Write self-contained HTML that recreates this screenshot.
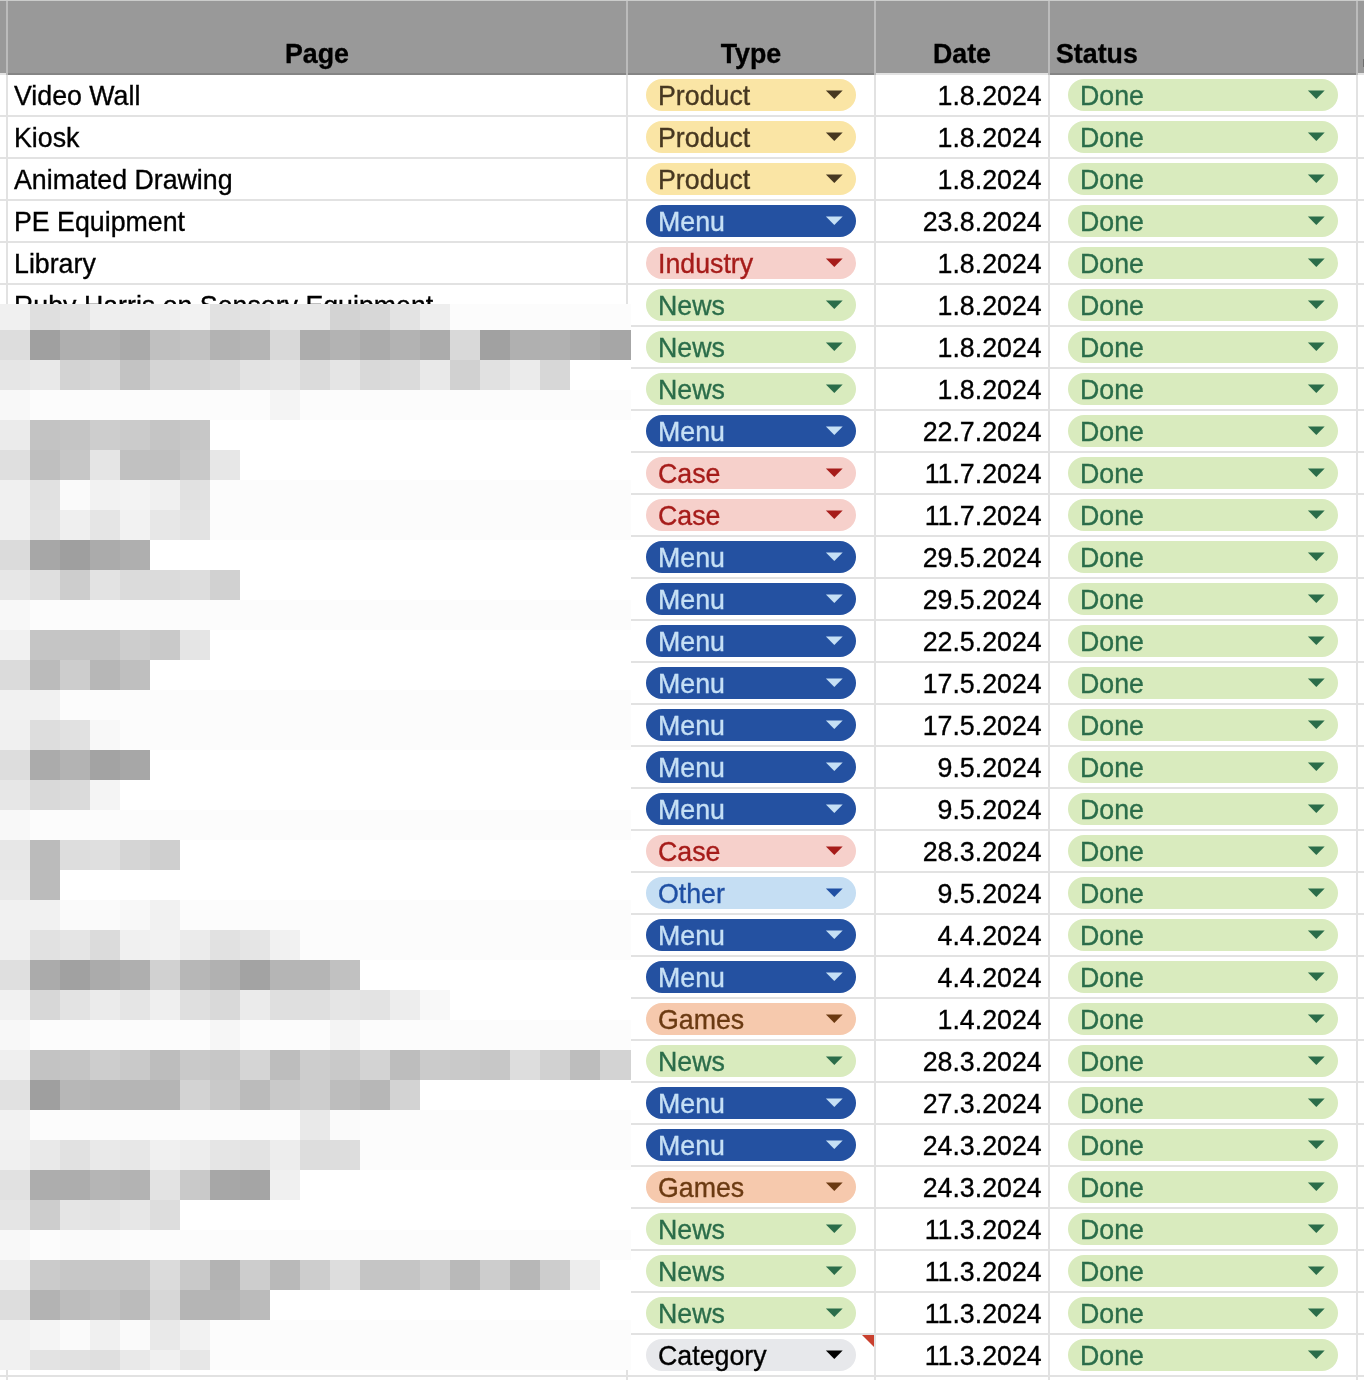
<!DOCTYPE html><html><head><meta charset="utf-8"><style>
*{margin:0;padding:0;box-sizing:border-box}
html,body{width:1364px;height:1380px;overflow:hidden;background:#fff}
body{position:relative;-webkit-font-smoothing:antialiased;-webkit-text-stroke:0.35px currentColor;font-family:"Liberation Sans",sans-serif;font-size:26.75px;color:#000}
.a{position:absolute}
.hl{position:absolute;left:0;width:1364px;height:2px;background:#e2e2e2}
.vl{position:absolute;top:75px;width:2px;height:1305px;background:#e2e2e2}
.hvl{position:absolute;top:1px;width:2px;height:74px;background:#bbbbbb}
.t{position:absolute;white-space:nowrap;line-height:30px;will-change:transform}
.chip{position:absolute;height:32px;border-radius:16px}
.chip span{position:absolute;left:11.5px;top:2px;line-height:30px;white-space:nowrap;will-change:transform}
.tri{position:absolute;width:0;height:0;border-left:8.75px solid transparent;border-right:8.75px solid transparent;border-top:8.8px solid}
.m{position:absolute;width:30px;height:30px}
</style></head><body>
<div class="a" style="left:0;top:0;width:1364px;height:1px;background:#cbcccb"></div>
<div class="a" style="left:0;top:1px;width:1364px;height:72px;background:#999999"></div>
<div class="a" style="left:1363px;top:59px;width:1px;height:8px;background:#6e6e6e"></div>
<div class="a" style="left:0;top:73px;width:1364px;height:2px;background:#e2e2e2"></div>
<div class="a" style="left:6px;top:73px;width:868px;height:2px;background:#858585"></div>
<div class="a" style="left:1048px;top:73px;width:308px;height:2px;background:#858585"></div>
<div class="hvl" style="left:6px"></div>
<div class="hvl" style="left:626px"></div>
<div class="hvl" style="left:874px"></div>
<div class="hvl" style="left:1048px"></div>
<div class="hvl" style="left:1356px"></div>
<div class="t" style="left:8px;width:618px;top:39px;text-align:center;font-weight:bold">Page</div>
<div class="t" style="left:628px;width:246px;top:39px;text-align:center;font-weight:bold">Type</div>
<div class="t" style="left:876px;width:172px;top:39px;text-align:center;font-weight:bold">Date</div>
<div class="t" style="left:1056px;top:39px;font-weight:bold">Status</div>
<div class="hl" style="top:115px"></div>
<div class="hl" style="top:157px"></div>
<div class="hl" style="top:199px"></div>
<div class="hl" style="top:241px"></div>
<div class="hl" style="top:283px"></div>
<div class="hl" style="top:325px"></div>
<div class="hl" style="top:367px"></div>
<div class="hl" style="top:409px"></div>
<div class="hl" style="top:451px"></div>
<div class="hl" style="top:493px"></div>
<div class="hl" style="top:535px"></div>
<div class="hl" style="top:577px"></div>
<div class="hl" style="top:619px"></div>
<div class="hl" style="top:661px"></div>
<div class="hl" style="top:703px"></div>
<div class="hl" style="top:745px"></div>
<div class="hl" style="top:787px"></div>
<div class="hl" style="top:829px"></div>
<div class="hl" style="top:871px"></div>
<div class="hl" style="top:913px"></div>
<div class="hl" style="top:955px"></div>
<div class="hl" style="top:997px"></div>
<div class="hl" style="top:1039px"></div>
<div class="hl" style="top:1081px"></div>
<div class="hl" style="top:1123px"></div>
<div class="hl" style="top:1165px"></div>
<div class="hl" style="top:1207px"></div>
<div class="hl" style="top:1249px"></div>
<div class="hl" style="top:1291px"></div>
<div class="hl" style="top:1333px"></div>
<div class="hl" style="top:1375px"></div>
<div class="vl" style="left:6px"></div>
<div class="vl" style="left:626px"></div>
<div class="vl" style="left:874px"></div>
<div class="vl" style="left:1048px"></div>
<div class="vl" style="left:1356px"></div>
<div class="t" style="left:14px;top:81px">Video Wall</div>
<div class="chip" style="left:646px;top:79px;width:210px;background:#fae5a5;color:#473821"><span>Product</span></div>
<svg class="a" style="left:825px;top:90.3px" width="19" height="10"><polygon points="0.9,0.4 17.7,0.4 9.3,8.9" fill="#473821"/></svg>
<div class="t" style="left:876px;width:165.7px;top:81px;text-align:right">1.8.2024</div>
<div class="chip" style="left:1068px;top:79px;width:270px;background:#d9ebbe;color:#2b6d4a"><span>Done</span></div>
<svg class="a" style="left:1307px;top:90.3px" width="19" height="10"><polygon points="0.9,0.4 17.7,0.4 9.3,8.9" fill="#2b6d4a"/></svg>
<div class="t" style="left:14px;top:123px">Kiosk</div>
<div class="chip" style="left:646px;top:121px;width:210px;background:#fae5a5;color:#473821"><span>Product</span></div>
<svg class="a" style="left:825px;top:132.3px" width="19" height="10"><polygon points="0.9,0.4 17.7,0.4 9.3,8.9" fill="#473821"/></svg>
<div class="t" style="left:876px;width:165.7px;top:123px;text-align:right">1.8.2024</div>
<div class="chip" style="left:1068px;top:121px;width:270px;background:#d9ebbe;color:#2b6d4a"><span>Done</span></div>
<svg class="a" style="left:1307px;top:132.3px" width="19" height="10"><polygon points="0.9,0.4 17.7,0.4 9.3,8.9" fill="#2b6d4a"/></svg>
<div class="t" style="left:14px;top:165px">Animated Drawing</div>
<div class="chip" style="left:646px;top:163px;width:210px;background:#fae5a5;color:#473821"><span>Product</span></div>
<svg class="a" style="left:825px;top:174.3px" width="19" height="10"><polygon points="0.9,0.4 17.7,0.4 9.3,8.9" fill="#473821"/></svg>
<div class="t" style="left:876px;width:165.7px;top:165px;text-align:right">1.8.2024</div>
<div class="chip" style="left:1068px;top:163px;width:270px;background:#d9ebbe;color:#2b6d4a"><span>Done</span></div>
<svg class="a" style="left:1307px;top:174.3px" width="19" height="10"><polygon points="0.9,0.4 17.7,0.4 9.3,8.9" fill="#2b6d4a"/></svg>
<div class="t" style="left:14px;top:207px">PE Equipment</div>
<div class="chip" style="left:646px;top:205px;width:210px;background:#2451a1;color:#c6e0f5"><span>Menu</span></div>
<svg class="a" style="left:825px;top:216.3px" width="19" height="10"><polygon points="0.9,0.4 17.7,0.4 9.3,8.9" fill="#c6e0f5"/></svg>
<div class="t" style="left:876px;width:165.7px;top:207px;text-align:right">23.8.2024</div>
<div class="chip" style="left:1068px;top:205px;width:270px;background:#d9ebbe;color:#2b6d4a"><span>Done</span></div>
<svg class="a" style="left:1307px;top:216.3px" width="19" height="10"><polygon points="0.9,0.4 17.7,0.4 9.3,8.9" fill="#2b6d4a"/></svg>
<div class="t" style="left:14px;top:249px">Library</div>
<div class="chip" style="left:646px;top:247px;width:210px;background:#f6d0cb;color:#a61c1a"><span>Industry</span></div>
<svg class="a" style="left:825px;top:258.3px" width="19" height="10"><polygon points="0.9,0.4 17.7,0.4 9.3,8.9" fill="#a61c1a"/></svg>
<div class="t" style="left:876px;width:165.7px;top:249px;text-align:right">1.8.2024</div>
<div class="chip" style="left:1068px;top:247px;width:270px;background:#d9ebbe;color:#2b6d4a"><span>Done</span></div>
<svg class="a" style="left:1307px;top:258.3px" width="19" height="10"><polygon points="0.9,0.4 17.7,0.4 9.3,8.9" fill="#2b6d4a"/></svg>
<div class="t" style="left:14px;top:291px">Ruby Harris on Sensory Equipment</div>
<div class="chip" style="left:646px;top:289px;width:210px;background:#d9ebbe;color:#2b6d4a"><span>News</span></div>
<svg class="a" style="left:825px;top:300.3px" width="19" height="10"><polygon points="0.9,0.4 17.7,0.4 9.3,8.9" fill="#2b6d4a"/></svg>
<div class="t" style="left:876px;width:165.7px;top:291px;text-align:right">1.8.2024</div>
<div class="chip" style="left:1068px;top:289px;width:270px;background:#d9ebbe;color:#2b6d4a"><span>Done</span></div>
<svg class="a" style="left:1307px;top:300.3px" width="19" height="10"><polygon points="0.9,0.4 17.7,0.4 9.3,8.9" fill="#2b6d4a"/></svg>
<div class="chip" style="left:646px;top:331px;width:210px;background:#d9ebbe;color:#2b6d4a"><span>News</span></div>
<svg class="a" style="left:825px;top:342.3px" width="19" height="10"><polygon points="0.9,0.4 17.7,0.4 9.3,8.9" fill="#2b6d4a"/></svg>
<div class="t" style="left:876px;width:165.7px;top:333px;text-align:right">1.8.2024</div>
<div class="chip" style="left:1068px;top:331px;width:270px;background:#d9ebbe;color:#2b6d4a"><span>Done</span></div>
<svg class="a" style="left:1307px;top:342.3px" width="19" height="10"><polygon points="0.9,0.4 17.7,0.4 9.3,8.9" fill="#2b6d4a"/></svg>
<div class="chip" style="left:646px;top:373px;width:210px;background:#d9ebbe;color:#2b6d4a"><span>News</span></div>
<svg class="a" style="left:825px;top:384.3px" width="19" height="10"><polygon points="0.9,0.4 17.7,0.4 9.3,8.9" fill="#2b6d4a"/></svg>
<div class="t" style="left:876px;width:165.7px;top:375px;text-align:right">1.8.2024</div>
<div class="chip" style="left:1068px;top:373px;width:270px;background:#d9ebbe;color:#2b6d4a"><span>Done</span></div>
<svg class="a" style="left:1307px;top:384.3px" width="19" height="10"><polygon points="0.9,0.4 17.7,0.4 9.3,8.9" fill="#2b6d4a"/></svg>
<div class="chip" style="left:646px;top:415px;width:210px;background:#2451a1;color:#c6e0f5"><span>Menu</span></div>
<svg class="a" style="left:825px;top:426.3px" width="19" height="10"><polygon points="0.9,0.4 17.7,0.4 9.3,8.9" fill="#c6e0f5"/></svg>
<div class="t" style="left:876px;width:165.7px;top:417px;text-align:right">22.7.2024</div>
<div class="chip" style="left:1068px;top:415px;width:270px;background:#d9ebbe;color:#2b6d4a"><span>Done</span></div>
<svg class="a" style="left:1307px;top:426.3px" width="19" height="10"><polygon points="0.9,0.4 17.7,0.4 9.3,8.9" fill="#2b6d4a"/></svg>
<div class="chip" style="left:646px;top:457px;width:210px;background:#f6d0cb;color:#a61c1a"><span>Case</span></div>
<svg class="a" style="left:825px;top:468.3px" width="19" height="10"><polygon points="0.9,0.4 17.7,0.4 9.3,8.9" fill="#a61c1a"/></svg>
<div class="t" style="left:876px;width:165.7px;top:459px;text-align:right">11.7.2024</div>
<div class="chip" style="left:1068px;top:457px;width:270px;background:#d9ebbe;color:#2b6d4a"><span>Done</span></div>
<svg class="a" style="left:1307px;top:468.3px" width="19" height="10"><polygon points="0.9,0.4 17.7,0.4 9.3,8.9" fill="#2b6d4a"/></svg>
<div class="chip" style="left:646px;top:499px;width:210px;background:#f6d0cb;color:#a61c1a"><span>Case</span></div>
<svg class="a" style="left:825px;top:510.3px" width="19" height="10"><polygon points="0.9,0.4 17.7,0.4 9.3,8.9" fill="#a61c1a"/></svg>
<div class="t" style="left:876px;width:165.7px;top:501px;text-align:right">11.7.2024</div>
<div class="chip" style="left:1068px;top:499px;width:270px;background:#d9ebbe;color:#2b6d4a"><span>Done</span></div>
<svg class="a" style="left:1307px;top:510.3px" width="19" height="10"><polygon points="0.9,0.4 17.7,0.4 9.3,8.9" fill="#2b6d4a"/></svg>
<div class="chip" style="left:646px;top:541px;width:210px;background:#2451a1;color:#c6e0f5"><span>Menu</span></div>
<svg class="a" style="left:825px;top:552.3px" width="19" height="10"><polygon points="0.9,0.4 17.7,0.4 9.3,8.9" fill="#c6e0f5"/></svg>
<div class="t" style="left:876px;width:165.7px;top:543px;text-align:right">29.5.2024</div>
<div class="chip" style="left:1068px;top:541px;width:270px;background:#d9ebbe;color:#2b6d4a"><span>Done</span></div>
<svg class="a" style="left:1307px;top:552.3px" width="19" height="10"><polygon points="0.9,0.4 17.7,0.4 9.3,8.9" fill="#2b6d4a"/></svg>
<div class="chip" style="left:646px;top:583px;width:210px;background:#2451a1;color:#c6e0f5"><span>Menu</span></div>
<svg class="a" style="left:825px;top:594.3px" width="19" height="10"><polygon points="0.9,0.4 17.7,0.4 9.3,8.9" fill="#c6e0f5"/></svg>
<div class="t" style="left:876px;width:165.7px;top:585px;text-align:right">29.5.2024</div>
<div class="chip" style="left:1068px;top:583px;width:270px;background:#d9ebbe;color:#2b6d4a"><span>Done</span></div>
<svg class="a" style="left:1307px;top:594.3px" width="19" height="10"><polygon points="0.9,0.4 17.7,0.4 9.3,8.9" fill="#2b6d4a"/></svg>
<div class="chip" style="left:646px;top:625px;width:210px;background:#2451a1;color:#c6e0f5"><span>Menu</span></div>
<svg class="a" style="left:825px;top:636.3px" width="19" height="10"><polygon points="0.9,0.4 17.7,0.4 9.3,8.9" fill="#c6e0f5"/></svg>
<div class="t" style="left:876px;width:165.7px;top:627px;text-align:right">22.5.2024</div>
<div class="chip" style="left:1068px;top:625px;width:270px;background:#d9ebbe;color:#2b6d4a"><span>Done</span></div>
<svg class="a" style="left:1307px;top:636.3px" width="19" height="10"><polygon points="0.9,0.4 17.7,0.4 9.3,8.9" fill="#2b6d4a"/></svg>
<div class="chip" style="left:646px;top:667px;width:210px;background:#2451a1;color:#c6e0f5"><span>Menu</span></div>
<svg class="a" style="left:825px;top:678.3px" width="19" height="10"><polygon points="0.9,0.4 17.7,0.4 9.3,8.9" fill="#c6e0f5"/></svg>
<div class="t" style="left:876px;width:165.7px;top:669px;text-align:right">17.5.2024</div>
<div class="chip" style="left:1068px;top:667px;width:270px;background:#d9ebbe;color:#2b6d4a"><span>Done</span></div>
<svg class="a" style="left:1307px;top:678.3px" width="19" height="10"><polygon points="0.9,0.4 17.7,0.4 9.3,8.9" fill="#2b6d4a"/></svg>
<div class="chip" style="left:646px;top:709px;width:210px;background:#2451a1;color:#c6e0f5"><span>Menu</span></div>
<svg class="a" style="left:825px;top:720.3px" width="19" height="10"><polygon points="0.9,0.4 17.7,0.4 9.3,8.9" fill="#c6e0f5"/></svg>
<div class="t" style="left:876px;width:165.7px;top:711px;text-align:right">17.5.2024</div>
<div class="chip" style="left:1068px;top:709px;width:270px;background:#d9ebbe;color:#2b6d4a"><span>Done</span></div>
<svg class="a" style="left:1307px;top:720.3px" width="19" height="10"><polygon points="0.9,0.4 17.7,0.4 9.3,8.9" fill="#2b6d4a"/></svg>
<div class="chip" style="left:646px;top:751px;width:210px;background:#2451a1;color:#c6e0f5"><span>Menu</span></div>
<svg class="a" style="left:825px;top:762.3px" width="19" height="10"><polygon points="0.9,0.4 17.7,0.4 9.3,8.9" fill="#c6e0f5"/></svg>
<div class="t" style="left:876px;width:165.7px;top:753px;text-align:right">9.5.2024</div>
<div class="chip" style="left:1068px;top:751px;width:270px;background:#d9ebbe;color:#2b6d4a"><span>Done</span></div>
<svg class="a" style="left:1307px;top:762.3px" width="19" height="10"><polygon points="0.9,0.4 17.7,0.4 9.3,8.9" fill="#2b6d4a"/></svg>
<div class="chip" style="left:646px;top:793px;width:210px;background:#2451a1;color:#c6e0f5"><span>Menu</span></div>
<svg class="a" style="left:825px;top:804.3px" width="19" height="10"><polygon points="0.9,0.4 17.7,0.4 9.3,8.9" fill="#c6e0f5"/></svg>
<div class="t" style="left:876px;width:165.7px;top:795px;text-align:right">9.5.2024</div>
<div class="chip" style="left:1068px;top:793px;width:270px;background:#d9ebbe;color:#2b6d4a"><span>Done</span></div>
<svg class="a" style="left:1307px;top:804.3px" width="19" height="10"><polygon points="0.9,0.4 17.7,0.4 9.3,8.9" fill="#2b6d4a"/></svg>
<div class="chip" style="left:646px;top:835px;width:210px;background:#f6d0cb;color:#a61c1a"><span>Case</span></div>
<svg class="a" style="left:825px;top:846.3px" width="19" height="10"><polygon points="0.9,0.4 17.7,0.4 9.3,8.9" fill="#a61c1a"/></svg>
<div class="t" style="left:876px;width:165.7px;top:837px;text-align:right">28.3.2024</div>
<div class="chip" style="left:1068px;top:835px;width:270px;background:#d9ebbe;color:#2b6d4a"><span>Done</span></div>
<svg class="a" style="left:1307px;top:846.3px" width="19" height="10"><polygon points="0.9,0.4 17.7,0.4 9.3,8.9" fill="#2b6d4a"/></svg>
<div class="chip" style="left:646px;top:877px;width:210px;background:#c5def3;color:#1f4fa3"><span>Other</span></div>
<svg class="a" style="left:825px;top:888.3px" width="19" height="10"><polygon points="0.9,0.4 17.7,0.4 9.3,8.9" fill="#1f4fa3"/></svg>
<div class="t" style="left:876px;width:165.7px;top:879px;text-align:right">9.5.2024</div>
<div class="chip" style="left:1068px;top:877px;width:270px;background:#d9ebbe;color:#2b6d4a"><span>Done</span></div>
<svg class="a" style="left:1307px;top:888.3px" width="19" height="10"><polygon points="0.9,0.4 17.7,0.4 9.3,8.9" fill="#2b6d4a"/></svg>
<div class="chip" style="left:646px;top:919px;width:210px;background:#2451a1;color:#c6e0f5"><span>Menu</span></div>
<svg class="a" style="left:825px;top:930.3px" width="19" height="10"><polygon points="0.9,0.4 17.7,0.4 9.3,8.9" fill="#c6e0f5"/></svg>
<div class="t" style="left:876px;width:165.7px;top:921px;text-align:right">4.4.2024</div>
<div class="chip" style="left:1068px;top:919px;width:270px;background:#d9ebbe;color:#2b6d4a"><span>Done</span></div>
<svg class="a" style="left:1307px;top:930.3px" width="19" height="10"><polygon points="0.9,0.4 17.7,0.4 9.3,8.9" fill="#2b6d4a"/></svg>
<div class="chip" style="left:646px;top:961px;width:210px;background:#2451a1;color:#c6e0f5"><span>Menu</span></div>
<svg class="a" style="left:825px;top:972.3px" width="19" height="10"><polygon points="0.9,0.4 17.7,0.4 9.3,8.9" fill="#c6e0f5"/></svg>
<div class="t" style="left:876px;width:165.7px;top:963px;text-align:right">4.4.2024</div>
<div class="chip" style="left:1068px;top:961px;width:270px;background:#d9ebbe;color:#2b6d4a"><span>Done</span></div>
<svg class="a" style="left:1307px;top:972.3px" width="19" height="10"><polygon points="0.9,0.4 17.7,0.4 9.3,8.9" fill="#2b6d4a"/></svg>
<div class="chip" style="left:646px;top:1003px;width:210px;background:#f6c9ad;color:#6b3a12"><span>Games</span></div>
<svg class="a" style="left:825px;top:1014.3px" width="19" height="10"><polygon points="0.9,0.4 17.7,0.4 9.3,8.9" fill="#6b3a12"/></svg>
<div class="t" style="left:876px;width:165.7px;top:1005px;text-align:right">1.4.2024</div>
<div class="chip" style="left:1068px;top:1003px;width:270px;background:#d9ebbe;color:#2b6d4a"><span>Done</span></div>
<svg class="a" style="left:1307px;top:1014.3px" width="19" height="10"><polygon points="0.9,0.4 17.7,0.4 9.3,8.9" fill="#2b6d4a"/></svg>
<div class="chip" style="left:646px;top:1045px;width:210px;background:#d9ebbe;color:#2b6d4a"><span>News</span></div>
<svg class="a" style="left:825px;top:1056.3px" width="19" height="10"><polygon points="0.9,0.4 17.7,0.4 9.3,8.9" fill="#2b6d4a"/></svg>
<div class="t" style="left:876px;width:165.7px;top:1047px;text-align:right">28.3.2024</div>
<div class="chip" style="left:1068px;top:1045px;width:270px;background:#d9ebbe;color:#2b6d4a"><span>Done</span></div>
<svg class="a" style="left:1307px;top:1056.3px" width="19" height="10"><polygon points="0.9,0.4 17.7,0.4 9.3,8.9" fill="#2b6d4a"/></svg>
<div class="chip" style="left:646px;top:1087px;width:210px;background:#2451a1;color:#c6e0f5"><span>Menu</span></div>
<svg class="a" style="left:825px;top:1098.3px" width="19" height="10"><polygon points="0.9,0.4 17.7,0.4 9.3,8.9" fill="#c6e0f5"/></svg>
<div class="t" style="left:876px;width:165.7px;top:1089px;text-align:right">27.3.2024</div>
<div class="chip" style="left:1068px;top:1087px;width:270px;background:#d9ebbe;color:#2b6d4a"><span>Done</span></div>
<svg class="a" style="left:1307px;top:1098.3px" width="19" height="10"><polygon points="0.9,0.4 17.7,0.4 9.3,8.9" fill="#2b6d4a"/></svg>
<div class="chip" style="left:646px;top:1129px;width:210px;background:#2451a1;color:#c6e0f5"><span>Menu</span></div>
<svg class="a" style="left:825px;top:1140.3px" width="19" height="10"><polygon points="0.9,0.4 17.7,0.4 9.3,8.9" fill="#c6e0f5"/></svg>
<div class="t" style="left:876px;width:165.7px;top:1131px;text-align:right">24.3.2024</div>
<div class="chip" style="left:1068px;top:1129px;width:270px;background:#d9ebbe;color:#2b6d4a"><span>Done</span></div>
<svg class="a" style="left:1307px;top:1140.3px" width="19" height="10"><polygon points="0.9,0.4 17.7,0.4 9.3,8.9" fill="#2b6d4a"/></svg>
<div class="chip" style="left:646px;top:1171px;width:210px;background:#f6c9ad;color:#6b3a12"><span>Games</span></div>
<svg class="a" style="left:825px;top:1182.3px" width="19" height="10"><polygon points="0.9,0.4 17.7,0.4 9.3,8.9" fill="#6b3a12"/></svg>
<div class="t" style="left:876px;width:165.7px;top:1173px;text-align:right">24.3.2024</div>
<div class="chip" style="left:1068px;top:1171px;width:270px;background:#d9ebbe;color:#2b6d4a"><span>Done</span></div>
<svg class="a" style="left:1307px;top:1182.3px" width="19" height="10"><polygon points="0.9,0.4 17.7,0.4 9.3,8.9" fill="#2b6d4a"/></svg>
<div class="chip" style="left:646px;top:1213px;width:210px;background:#d9ebbe;color:#2b6d4a"><span>News</span></div>
<svg class="a" style="left:825px;top:1224.3px" width="19" height="10"><polygon points="0.9,0.4 17.7,0.4 9.3,8.9" fill="#2b6d4a"/></svg>
<div class="t" style="left:876px;width:165.7px;top:1215px;text-align:right">11.3.2024</div>
<div class="chip" style="left:1068px;top:1213px;width:270px;background:#d9ebbe;color:#2b6d4a"><span>Done</span></div>
<svg class="a" style="left:1307px;top:1224.3px" width="19" height="10"><polygon points="0.9,0.4 17.7,0.4 9.3,8.9" fill="#2b6d4a"/></svg>
<div class="chip" style="left:646px;top:1255px;width:210px;background:#d9ebbe;color:#2b6d4a"><span>News</span></div>
<svg class="a" style="left:825px;top:1266.3px" width="19" height="10"><polygon points="0.9,0.4 17.7,0.4 9.3,8.9" fill="#2b6d4a"/></svg>
<div class="t" style="left:876px;width:165.7px;top:1257px;text-align:right">11.3.2024</div>
<div class="chip" style="left:1068px;top:1255px;width:270px;background:#d9ebbe;color:#2b6d4a"><span>Done</span></div>
<svg class="a" style="left:1307px;top:1266.3px" width="19" height="10"><polygon points="0.9,0.4 17.7,0.4 9.3,8.9" fill="#2b6d4a"/></svg>
<div class="chip" style="left:646px;top:1297px;width:210px;background:#d9ebbe;color:#2b6d4a"><span>News</span></div>
<svg class="a" style="left:825px;top:1308.3px" width="19" height="10"><polygon points="0.9,0.4 17.7,0.4 9.3,8.9" fill="#2b6d4a"/></svg>
<div class="t" style="left:876px;width:165.7px;top:1299px;text-align:right">11.3.2024</div>
<div class="chip" style="left:1068px;top:1297px;width:270px;background:#d9ebbe;color:#2b6d4a"><span>Done</span></div>
<svg class="a" style="left:1307px;top:1308.3px" width="19" height="10"><polygon points="0.9,0.4 17.7,0.4 9.3,8.9" fill="#2b6d4a"/></svg>
<div class="chip" style="left:646px;top:1339px;width:210px;background:#e7e8eb;color:#000000"><span>Category</span></div>
<svg class="a" style="left:825px;top:1350.3px" width="19" height="10"><polygon points="0.9,0.4 17.7,0.4 9.3,8.9" fill="#000000"/></svg>
<div class="t" style="left:876px;width:165.7px;top:1341px;text-align:right">11.3.2024</div>
<div class="chip" style="left:1068px;top:1339px;width:270px;background:#d9ebbe;color:#2b6d4a"><span>Done</span></div>
<svg class="a" style="left:1307px;top:1350.3px" width="19" height="10"><polygon points="0.9,0.4 17.7,0.4 9.3,8.9" fill="#2b6d4a"/></svg>
<div class="a" style="left:862px;top:1335px;width:0;height:0;border-top:12px solid #c9402e;border-left:12px solid transparent"></div>
<div class="m" style="left:0px;top:304px;height:26px;width:30px;background:#f0f0f0"></div>
<div class="m" style="left:30px;top:304px;height:26px;width:30px;background:#dfdfdf"></div>
<div class="m" style="left:60px;top:304px;height:26px;width:30px;background:#e3e3e3"></div>
<div class="m" style="left:90px;top:304px;height:26px;width:30px;background:#eeeeee"></div>
<div class="m" style="left:120px;top:304px;height:26px;width:30px;background:#eeeeee"></div>
<div class="m" style="left:150px;top:304px;height:26px;width:30px;background:#efefef"></div>
<div class="m" style="left:180px;top:304px;height:26px;width:30px;background:#f2f2f2"></div>
<div class="m" style="left:210px;top:304px;height:26px;width:30px;background:#e1e1e1"></div>
<div class="m" style="left:240px;top:304px;height:26px;width:30px;background:#e3e3e3"></div>
<div class="m" style="left:270px;top:304px;height:26px;width:30px;background:#e7e7e7"></div>
<div class="m" style="left:300px;top:304px;height:26px;width:30px;background:#e7e7e7"></div>
<div class="m" style="left:330px;top:304px;height:26px;width:30px;background:#d3d3d3"></div>
<div class="m" style="left:360px;top:304px;height:26px;width:30px;background:#d7d7d7"></div>
<div class="m" style="left:390px;top:304px;height:26px;width:30px;background:#e3e3e3"></div>
<div class="m" style="left:420px;top:304px;height:26px;width:30px;background:#eeeeee"></div>
<div class="m" style="left:450px;top:304px;height:26px;width:30px;background:#fcfcfc"></div>
<div class="m" style="left:480px;top:304px;height:26px;width:30px;background:#fcfcfc"></div>
<div class="m" style="left:510px;top:304px;height:26px;width:30px;background:#fcfcfc"></div>
<div class="m" style="left:540px;top:304px;height:26px;width:30px;background:#fcfcfc"></div>
<div class="m" style="left:570px;top:304px;height:26px;width:30px;background:#fcfcfc"></div>
<div class="m" style="left:600px;top:304px;height:26px;width:31px;background:#fcfcfc"></div>
<div class="m" style="left:0px;top:330px;height:30px;width:30px;background:#dddddd"></div>
<div class="m" style="left:30px;top:330px;height:30px;width:30px;background:#a0a0a0"></div>
<div class="m" style="left:60px;top:330px;height:30px;width:30px;background:#afafaf"></div>
<div class="m" style="left:90px;top:330px;height:30px;width:30px;background:#b0b0b0"></div>
<div class="m" style="left:120px;top:330px;height:30px;width:30px;background:#ababab"></div>
<div class="m" style="left:150px;top:330px;height:30px;width:30px;background:#c0c0c0"></div>
<div class="m" style="left:180px;top:330px;height:30px;width:30px;background:#c3c3c3"></div>
<div class="m" style="left:210px;top:330px;height:30px;width:30px;background:#b3b3b3"></div>
<div class="m" style="left:240px;top:330px;height:30px;width:30px;background:#b5b5b5"></div>
<div class="m" style="left:270px;top:330px;height:30px;width:30px;background:#d9d9d9"></div>
<div class="m" style="left:300px;top:330px;height:30px;width:30px;background:#adadad"></div>
<div class="m" style="left:330px;top:330px;height:30px;width:30px;background:#b3b3b3"></div>
<div class="m" style="left:360px;top:330px;height:30px;width:30px;background:#acacac"></div>
<div class="m" style="left:390px;top:330px;height:30px;width:30px;background:#b3b3b3"></div>
<div class="m" style="left:420px;top:330px;height:30px;width:30px;background:#acacac"></div>
<div class="m" style="left:450px;top:330px;height:30px;width:30px;background:#d9d9d9"></div>
<div class="m" style="left:480px;top:330px;height:30px;width:30px;background:#a1a1a1"></div>
<div class="m" style="left:510px;top:330px;height:30px;width:30px;background:#b0b0b0"></div>
<div class="m" style="left:540px;top:330px;height:30px;width:30px;background:#b1b1b1"></div>
<div class="m" style="left:570px;top:330px;height:30px;width:30px;background:#ababab"></div>
<div class="m" style="left:600px;top:330px;height:30px;width:31px;background:#a6a6a6"></div>
<div class="m" style="left:0px;top:360px;height:30px;width:30px;background:#e6e6e6"></div>
<div class="m" style="left:30px;top:360px;height:30px;width:30px;background:#e9e9e9"></div>
<div class="m" style="left:60px;top:360px;height:30px;width:30px;background:#d3d3d3"></div>
<div class="m" style="left:90px;top:360px;height:30px;width:30px;background:#d7d7d7"></div>
<div class="m" style="left:120px;top:360px;height:30px;width:30px;background:#c3c3c3"></div>
<div class="m" style="left:150px;top:360px;height:30px;width:30px;background:#d5d5d5"></div>
<div class="m" style="left:180px;top:360px;height:30px;width:30px;background:#d5d5d5"></div>
<div class="m" style="left:210px;top:360px;height:30px;width:30px;background:#d9d9d9"></div>
<div class="m" style="left:240px;top:360px;height:30px;width:30px;background:#e3e3e3"></div>
<div class="m" style="left:270px;top:360px;height:30px;width:30px;background:#e5e5e5"></div>
<div class="m" style="left:300px;top:360px;height:30px;width:30px;background:#dbdbdb"></div>
<div class="m" style="left:330px;top:360px;height:30px;width:30px;background:#e5e5e5"></div>
<div class="m" style="left:360px;top:360px;height:30px;width:30px;background:#d9d9d9"></div>
<div class="m" style="left:390px;top:360px;height:30px;width:30px;background:#dbdbdb"></div>
<div class="m" style="left:420px;top:360px;height:30px;width:30px;background:#e9e9e9"></div>
<div class="m" style="left:450px;top:360px;height:30px;width:30px;background:#d1d1d1"></div>
<div class="m" style="left:480px;top:360px;height:30px;width:30px;background:#e1e1e1"></div>
<div class="m" style="left:510px;top:360px;height:30px;width:30px;background:#ebebeb"></div>
<div class="m" style="left:540px;top:360px;height:30px;width:30px;background:#d7d7d7"></div>
<div class="m" style="left:570px;top:360px;height:30px;width:30px;background:#ffffff"></div>
<div class="m" style="left:600px;top:360px;height:30px;width:31px;background:#ffffff"></div>
<div class="m" style="left:0px;top:390px;height:30px;width:30px;background:#f8f8f8"></div>
<div class="m" style="left:30px;top:390px;height:30px;width:30px;background:#fcfcfc"></div>
<div class="m" style="left:60px;top:390px;height:30px;width:30px;background:#fcfcfc"></div>
<div class="m" style="left:90px;top:390px;height:30px;width:30px;background:#fcfcfc"></div>
<div class="m" style="left:120px;top:390px;height:30px;width:30px;background:#fcfcfc"></div>
<div class="m" style="left:150px;top:390px;height:30px;width:30px;background:#fcfcfc"></div>
<div class="m" style="left:180px;top:390px;height:30px;width:30px;background:#fcfcfc"></div>
<div class="m" style="left:210px;top:390px;height:30px;width:30px;background:#fcfcfc"></div>
<div class="m" style="left:240px;top:390px;height:30px;width:30px;background:#fcfcfc"></div>
<div class="m" style="left:270px;top:390px;height:30px;width:30px;background:#f4f4f4"></div>
<div class="m" style="left:300px;top:390px;height:30px;width:30px;background:#fcfcfc"></div>
<div class="m" style="left:330px;top:390px;height:30px;width:30px;background:#fcfcfc"></div>
<div class="m" style="left:360px;top:390px;height:30px;width:30px;background:#fcfcfc"></div>
<div class="m" style="left:390px;top:390px;height:30px;width:30px;background:#fcfcfc"></div>
<div class="m" style="left:420px;top:390px;height:30px;width:30px;background:#fcfcfc"></div>
<div class="m" style="left:450px;top:390px;height:30px;width:30px;background:#fcfcfc"></div>
<div class="m" style="left:480px;top:390px;height:30px;width:30px;background:#fcfcfc"></div>
<div class="m" style="left:510px;top:390px;height:30px;width:30px;background:#fcfcfc"></div>
<div class="m" style="left:540px;top:390px;height:30px;width:30px;background:#fcfcfc"></div>
<div class="m" style="left:570px;top:390px;height:30px;width:30px;background:#fcfcfc"></div>
<div class="m" style="left:600px;top:390px;height:30px;width:31px;background:#fcfcfc"></div>
<div class="m" style="left:0px;top:420px;height:30px;width:30px;background:#ebebeb"></div>
<div class="m" style="left:30px;top:420px;height:30px;width:30px;background:#c3c3c3"></div>
<div class="m" style="left:60px;top:420px;height:30px;width:30px;background:#c5c5c5"></div>
<div class="m" style="left:90px;top:420px;height:30px;width:30px;background:#cdcdcd"></div>
<div class="m" style="left:120px;top:420px;height:30px;width:30px;background:#cbcbcb"></div>
<div class="m" style="left:150px;top:420px;height:30px;width:30px;background:#c5c5c5"></div>
<div class="m" style="left:180px;top:420px;height:30px;width:30px;background:#c7c7c7"></div>
<div class="m" style="left:210px;top:420px;height:30px;width:30px;background:#ffffff"></div>
<div class="m" style="left:240px;top:420px;height:30px;width:30px;background:#ffffff"></div>
<div class="m" style="left:270px;top:420px;height:30px;width:30px;background:#ffffff"></div>
<div class="m" style="left:300px;top:420px;height:30px;width:30px;background:#ffffff"></div>
<div class="m" style="left:330px;top:420px;height:30px;width:30px;background:#ffffff"></div>
<div class="m" style="left:360px;top:420px;height:30px;width:30px;background:#ffffff"></div>
<div class="m" style="left:390px;top:420px;height:30px;width:30px;background:#ffffff"></div>
<div class="m" style="left:420px;top:420px;height:30px;width:30px;background:#ffffff"></div>
<div class="m" style="left:450px;top:420px;height:30px;width:30px;background:#ffffff"></div>
<div class="m" style="left:480px;top:420px;height:30px;width:30px;background:#ffffff"></div>
<div class="m" style="left:510px;top:420px;height:30px;width:30px;background:#ffffff"></div>
<div class="m" style="left:540px;top:420px;height:30px;width:30px;background:#ffffff"></div>
<div class="m" style="left:570px;top:420px;height:30px;width:30px;background:#ffffff"></div>
<div class="m" style="left:600px;top:420px;height:30px;width:31px;background:#ffffff"></div>
<div class="m" style="left:0px;top:450px;height:30px;width:30px;background:#dfdfdf"></div>
<div class="m" style="left:30px;top:450px;height:30px;width:30px;background:#bfbfbf"></div>
<div class="m" style="left:60px;top:450px;height:30px;width:30px;background:#c7c7c7"></div>
<div class="m" style="left:90px;top:450px;height:30px;width:30px;background:#e5e5e5"></div>
<div class="m" style="left:120px;top:450px;height:30px;width:30px;background:#c1c1c1"></div>
<div class="m" style="left:150px;top:450px;height:30px;width:30px;background:#c1c1c1"></div>
<div class="m" style="left:180px;top:450px;height:30px;width:30px;background:#c9c9c9"></div>
<div class="m" style="left:210px;top:450px;height:30px;width:30px;background:#e7e7e7"></div>
<div class="m" style="left:240px;top:450px;height:30px;width:30px;background:#ffffff"></div>
<div class="m" style="left:270px;top:450px;height:30px;width:30px;background:#ffffff"></div>
<div class="m" style="left:300px;top:450px;height:30px;width:30px;background:#ffffff"></div>
<div class="m" style="left:330px;top:450px;height:30px;width:30px;background:#ffffff"></div>
<div class="m" style="left:360px;top:450px;height:30px;width:30px;background:#ffffff"></div>
<div class="m" style="left:390px;top:450px;height:30px;width:30px;background:#ffffff"></div>
<div class="m" style="left:420px;top:450px;height:30px;width:30px;background:#ffffff"></div>
<div class="m" style="left:450px;top:450px;height:30px;width:30px;background:#ffffff"></div>
<div class="m" style="left:480px;top:450px;height:30px;width:30px;background:#ffffff"></div>
<div class="m" style="left:510px;top:450px;height:30px;width:30px;background:#ffffff"></div>
<div class="m" style="left:540px;top:450px;height:30px;width:30px;background:#ffffff"></div>
<div class="m" style="left:570px;top:450px;height:30px;width:30px;background:#ffffff"></div>
<div class="m" style="left:600px;top:450px;height:30px;width:31px;background:#ffffff"></div>
<div class="m" style="left:0px;top:480px;height:30px;width:30px;background:#f0f0f0"></div>
<div class="m" style="left:30px;top:480px;height:30px;width:30px;background:#e1e1e1"></div>
<div class="m" style="left:60px;top:480px;height:30px;width:30px;background:#fafafa"></div>
<div class="m" style="left:90px;top:480px;height:30px;width:30px;background:#f2f2f2"></div>
<div class="m" style="left:120px;top:480px;height:30px;width:30px;background:#f3f3f3"></div>
<div class="m" style="left:150px;top:480px;height:30px;width:30px;background:#f0f0f0"></div>
<div class="m" style="left:180px;top:480px;height:30px;width:30px;background:#e1e1e1"></div>
<div class="m" style="left:210px;top:480px;height:30px;width:30px;background:#fcfcfc"></div>
<div class="m" style="left:240px;top:480px;height:30px;width:30px;background:#fcfcfc"></div>
<div class="m" style="left:270px;top:480px;height:30px;width:30px;background:#fcfcfc"></div>
<div class="m" style="left:300px;top:480px;height:30px;width:30px;background:#fcfcfc"></div>
<div class="m" style="left:330px;top:480px;height:30px;width:30px;background:#fcfcfc"></div>
<div class="m" style="left:360px;top:480px;height:30px;width:30px;background:#fcfcfc"></div>
<div class="m" style="left:390px;top:480px;height:30px;width:30px;background:#fcfcfc"></div>
<div class="m" style="left:420px;top:480px;height:30px;width:30px;background:#fcfcfc"></div>
<div class="m" style="left:450px;top:480px;height:30px;width:30px;background:#fcfcfc"></div>
<div class="m" style="left:480px;top:480px;height:30px;width:30px;background:#fcfcfc"></div>
<div class="m" style="left:510px;top:480px;height:30px;width:30px;background:#fcfcfc"></div>
<div class="m" style="left:540px;top:480px;height:30px;width:30px;background:#fcfcfc"></div>
<div class="m" style="left:570px;top:480px;height:30px;width:30px;background:#fcfcfc"></div>
<div class="m" style="left:600px;top:480px;height:30px;width:31px;background:#fcfcfc"></div>
<div class="m" style="left:0px;top:510px;height:30px;width:30px;background:#f0f0f0"></div>
<div class="m" style="left:30px;top:510px;height:30px;width:30px;background:#e3e3e3"></div>
<div class="m" style="left:60px;top:510px;height:30px;width:30px;background:#efefef"></div>
<div class="m" style="left:90px;top:510px;height:30px;width:30px;background:#e5e5e5"></div>
<div class="m" style="left:120px;top:510px;height:30px;width:30px;background:#f2f2f2"></div>
<div class="m" style="left:150px;top:510px;height:30px;width:30px;background:#e7e7e7"></div>
<div class="m" style="left:180px;top:510px;height:30px;width:30px;background:#e3e3e3"></div>
<div class="m" style="left:210px;top:510px;height:30px;width:30px;background:#fcfcfc"></div>
<div class="m" style="left:240px;top:510px;height:30px;width:30px;background:#fcfcfc"></div>
<div class="m" style="left:270px;top:510px;height:30px;width:30px;background:#fcfcfc"></div>
<div class="m" style="left:300px;top:510px;height:30px;width:30px;background:#fcfcfc"></div>
<div class="m" style="left:330px;top:510px;height:30px;width:30px;background:#fcfcfc"></div>
<div class="m" style="left:360px;top:510px;height:30px;width:30px;background:#fcfcfc"></div>
<div class="m" style="left:390px;top:510px;height:30px;width:30px;background:#fcfcfc"></div>
<div class="m" style="left:420px;top:510px;height:30px;width:30px;background:#fcfcfc"></div>
<div class="m" style="left:450px;top:510px;height:30px;width:30px;background:#fcfcfc"></div>
<div class="m" style="left:480px;top:510px;height:30px;width:30px;background:#fcfcfc"></div>
<div class="m" style="left:510px;top:510px;height:30px;width:30px;background:#fcfcfc"></div>
<div class="m" style="left:540px;top:510px;height:30px;width:30px;background:#fcfcfc"></div>
<div class="m" style="left:570px;top:510px;height:30px;width:30px;background:#fcfcfc"></div>
<div class="m" style="left:600px;top:510px;height:30px;width:31px;background:#fcfcfc"></div>
<div class="m" style="left:0px;top:540px;height:30px;width:30px;background:#dbdbdb"></div>
<div class="m" style="left:30px;top:540px;height:30px;width:30px;background:#a7a7a7"></div>
<div class="m" style="left:60px;top:540px;height:30px;width:30px;background:#9f9f9f"></div>
<div class="m" style="left:90px;top:540px;height:30px;width:30px;background:#ababab"></div>
<div class="m" style="left:120px;top:540px;height:30px;width:30px;background:#afafaf"></div>
<div class="m" style="left:150px;top:540px;height:30px;width:30px;background:#ffffff"></div>
<div class="m" style="left:180px;top:540px;height:30px;width:30px;background:#ffffff"></div>
<div class="m" style="left:210px;top:540px;height:30px;width:30px;background:#ffffff"></div>
<div class="m" style="left:240px;top:540px;height:30px;width:30px;background:#ffffff"></div>
<div class="m" style="left:270px;top:540px;height:30px;width:30px;background:#ffffff"></div>
<div class="m" style="left:300px;top:540px;height:30px;width:30px;background:#ffffff"></div>
<div class="m" style="left:330px;top:540px;height:30px;width:30px;background:#ffffff"></div>
<div class="m" style="left:360px;top:540px;height:30px;width:30px;background:#ffffff"></div>
<div class="m" style="left:390px;top:540px;height:30px;width:30px;background:#ffffff"></div>
<div class="m" style="left:420px;top:540px;height:30px;width:30px;background:#ffffff"></div>
<div class="m" style="left:450px;top:540px;height:30px;width:30px;background:#ffffff"></div>
<div class="m" style="left:480px;top:540px;height:30px;width:30px;background:#ffffff"></div>
<div class="m" style="left:510px;top:540px;height:30px;width:30px;background:#ffffff"></div>
<div class="m" style="left:540px;top:540px;height:30px;width:30px;background:#ffffff"></div>
<div class="m" style="left:570px;top:540px;height:30px;width:30px;background:#ffffff"></div>
<div class="m" style="left:600px;top:540px;height:30px;width:31px;background:#ffffff"></div>
<div class="m" style="left:0px;top:570px;height:30px;width:30px;background:#e7e7e7"></div>
<div class="m" style="left:30px;top:570px;height:30px;width:30px;background:#dfdfdf"></div>
<div class="m" style="left:60px;top:570px;height:30px;width:30px;background:#cdcdcd"></div>
<div class="m" style="left:90px;top:570px;height:30px;width:30px;background:#e3e3e3"></div>
<div class="m" style="left:120px;top:570px;height:30px;width:30px;background:#dbdbdb"></div>
<div class="m" style="left:150px;top:570px;height:30px;width:30px;background:#dbdbdb"></div>
<div class="m" style="left:180px;top:570px;height:30px;width:30px;background:#dddddd"></div>
<div class="m" style="left:210px;top:570px;height:30px;width:30px;background:#d1d1d1"></div>
<div class="m" style="left:240px;top:570px;height:30px;width:30px;background:#ffffff"></div>
<div class="m" style="left:270px;top:570px;height:30px;width:30px;background:#ffffff"></div>
<div class="m" style="left:300px;top:570px;height:30px;width:30px;background:#ffffff"></div>
<div class="m" style="left:330px;top:570px;height:30px;width:30px;background:#ffffff"></div>
<div class="m" style="left:360px;top:570px;height:30px;width:30px;background:#ffffff"></div>
<div class="m" style="left:390px;top:570px;height:30px;width:30px;background:#ffffff"></div>
<div class="m" style="left:420px;top:570px;height:30px;width:30px;background:#ffffff"></div>
<div class="m" style="left:450px;top:570px;height:30px;width:30px;background:#ffffff"></div>
<div class="m" style="left:480px;top:570px;height:30px;width:30px;background:#ffffff"></div>
<div class="m" style="left:510px;top:570px;height:30px;width:30px;background:#ffffff"></div>
<div class="m" style="left:540px;top:570px;height:30px;width:30px;background:#ffffff"></div>
<div class="m" style="left:570px;top:570px;height:30px;width:30px;background:#ffffff"></div>
<div class="m" style="left:600px;top:570px;height:30px;width:31px;background:#ffffff"></div>
<div class="m" style="left:0px;top:600px;height:30px;width:30px;background:#f8f8f8"></div>
<div class="m" style="left:30px;top:600px;height:30px;width:30px;background:#fcfcfc"></div>
<div class="m" style="left:60px;top:600px;height:30px;width:30px;background:#fcfcfc"></div>
<div class="m" style="left:90px;top:600px;height:30px;width:30px;background:#fcfcfc"></div>
<div class="m" style="left:120px;top:600px;height:30px;width:30px;background:#fcfcfc"></div>
<div class="m" style="left:150px;top:600px;height:30px;width:30px;background:#fcfcfc"></div>
<div class="m" style="left:180px;top:600px;height:30px;width:30px;background:#fcfcfc"></div>
<div class="m" style="left:210px;top:600px;height:30px;width:30px;background:#fcfcfc"></div>
<div class="m" style="left:240px;top:600px;height:30px;width:30px;background:#fcfcfc"></div>
<div class="m" style="left:270px;top:600px;height:30px;width:30px;background:#fcfcfc"></div>
<div class="m" style="left:300px;top:600px;height:30px;width:30px;background:#fcfcfc"></div>
<div class="m" style="left:330px;top:600px;height:30px;width:30px;background:#fcfcfc"></div>
<div class="m" style="left:360px;top:600px;height:30px;width:30px;background:#fcfcfc"></div>
<div class="m" style="left:390px;top:600px;height:30px;width:30px;background:#fcfcfc"></div>
<div class="m" style="left:420px;top:600px;height:30px;width:30px;background:#fcfcfc"></div>
<div class="m" style="left:450px;top:600px;height:30px;width:30px;background:#fcfcfc"></div>
<div class="m" style="left:480px;top:600px;height:30px;width:30px;background:#fcfcfc"></div>
<div class="m" style="left:510px;top:600px;height:30px;width:30px;background:#fcfcfc"></div>
<div class="m" style="left:540px;top:600px;height:30px;width:30px;background:#fcfcfc"></div>
<div class="m" style="left:570px;top:600px;height:30px;width:30px;background:#fcfcfc"></div>
<div class="m" style="left:600px;top:600px;height:30px;width:31px;background:#fcfcfc"></div>
<div class="m" style="left:0px;top:630px;height:30px;width:30px;background:#f1f1f1"></div>
<div class="m" style="left:30px;top:630px;height:30px;width:30px;background:#c5c5c5"></div>
<div class="m" style="left:60px;top:630px;height:30px;width:30px;background:#c5c5c5"></div>
<div class="m" style="left:90px;top:630px;height:30px;width:30px;background:#c5c5c5"></div>
<div class="m" style="left:120px;top:630px;height:30px;width:30px;background:#cdcdcd"></div>
<div class="m" style="left:150px;top:630px;height:30px;width:30px;background:#c9c9c9"></div>
<div class="m" style="left:180px;top:630px;height:30px;width:30px;background:#e5e5e5"></div>
<div class="m" style="left:210px;top:630px;height:30px;width:30px;background:#ffffff"></div>
<div class="m" style="left:240px;top:630px;height:30px;width:30px;background:#ffffff"></div>
<div class="m" style="left:270px;top:630px;height:30px;width:30px;background:#ffffff"></div>
<div class="m" style="left:300px;top:630px;height:30px;width:30px;background:#ffffff"></div>
<div class="m" style="left:330px;top:630px;height:30px;width:30px;background:#ffffff"></div>
<div class="m" style="left:360px;top:630px;height:30px;width:30px;background:#ffffff"></div>
<div class="m" style="left:390px;top:630px;height:30px;width:30px;background:#ffffff"></div>
<div class="m" style="left:420px;top:630px;height:30px;width:30px;background:#ffffff"></div>
<div class="m" style="left:450px;top:630px;height:30px;width:30px;background:#ffffff"></div>
<div class="m" style="left:480px;top:630px;height:30px;width:30px;background:#ffffff"></div>
<div class="m" style="left:510px;top:630px;height:30px;width:30px;background:#ffffff"></div>
<div class="m" style="left:540px;top:630px;height:30px;width:30px;background:#ffffff"></div>
<div class="m" style="left:570px;top:630px;height:30px;width:30px;background:#ffffff"></div>
<div class="m" style="left:600px;top:630px;height:30px;width:31px;background:#ffffff"></div>
<div class="m" style="left:0px;top:660px;height:30px;width:30px;background:#dbdbdb"></div>
<div class="m" style="left:30px;top:660px;height:30px;width:30px;background:#bbbbbb"></div>
<div class="m" style="left:60px;top:660px;height:30px;width:30px;background:#cdcdcd"></div>
<div class="m" style="left:90px;top:660px;height:30px;width:30px;background:#b7b7b7"></div>
<div class="m" style="left:120px;top:660px;height:30px;width:30px;background:#bfbfbf"></div>
<div class="m" style="left:150px;top:660px;height:30px;width:30px;background:#ffffff"></div>
<div class="m" style="left:180px;top:660px;height:30px;width:30px;background:#ffffff"></div>
<div class="m" style="left:210px;top:660px;height:30px;width:30px;background:#ffffff"></div>
<div class="m" style="left:240px;top:660px;height:30px;width:30px;background:#ffffff"></div>
<div class="m" style="left:270px;top:660px;height:30px;width:30px;background:#ffffff"></div>
<div class="m" style="left:300px;top:660px;height:30px;width:30px;background:#ffffff"></div>
<div class="m" style="left:330px;top:660px;height:30px;width:30px;background:#ffffff"></div>
<div class="m" style="left:360px;top:660px;height:30px;width:30px;background:#ffffff"></div>
<div class="m" style="left:390px;top:660px;height:30px;width:30px;background:#ffffff"></div>
<div class="m" style="left:420px;top:660px;height:30px;width:30px;background:#ffffff"></div>
<div class="m" style="left:450px;top:660px;height:30px;width:30px;background:#ffffff"></div>
<div class="m" style="left:480px;top:660px;height:30px;width:30px;background:#ffffff"></div>
<div class="m" style="left:510px;top:660px;height:30px;width:30px;background:#ffffff"></div>
<div class="m" style="left:540px;top:660px;height:30px;width:30px;background:#ffffff"></div>
<div class="m" style="left:570px;top:660px;height:30px;width:30px;background:#ffffff"></div>
<div class="m" style="left:600px;top:660px;height:30px;width:31px;background:#ffffff"></div>
<div class="m" style="left:0px;top:690px;height:30px;width:30px;background:#f1f1f1"></div>
<div class="m" style="left:30px;top:690px;height:30px;width:30px;background:#f1f1f1"></div>
<div class="m" style="left:60px;top:690px;height:30px;width:30px;background:#fcfcfc"></div>
<div class="m" style="left:90px;top:690px;height:30px;width:30px;background:#fcfcfc"></div>
<div class="m" style="left:120px;top:690px;height:30px;width:30px;background:#fcfcfc"></div>
<div class="m" style="left:150px;top:690px;height:30px;width:30px;background:#fcfcfc"></div>
<div class="m" style="left:180px;top:690px;height:30px;width:30px;background:#fcfcfc"></div>
<div class="m" style="left:210px;top:690px;height:30px;width:30px;background:#fcfcfc"></div>
<div class="m" style="left:240px;top:690px;height:30px;width:30px;background:#fcfcfc"></div>
<div class="m" style="left:270px;top:690px;height:30px;width:30px;background:#fcfcfc"></div>
<div class="m" style="left:300px;top:690px;height:30px;width:30px;background:#fcfcfc"></div>
<div class="m" style="left:330px;top:690px;height:30px;width:30px;background:#fcfcfc"></div>
<div class="m" style="left:360px;top:690px;height:30px;width:30px;background:#fcfcfc"></div>
<div class="m" style="left:390px;top:690px;height:30px;width:30px;background:#fcfcfc"></div>
<div class="m" style="left:420px;top:690px;height:30px;width:30px;background:#fcfcfc"></div>
<div class="m" style="left:450px;top:690px;height:30px;width:30px;background:#fcfcfc"></div>
<div class="m" style="left:480px;top:690px;height:30px;width:30px;background:#fcfcfc"></div>
<div class="m" style="left:510px;top:690px;height:30px;width:30px;background:#fcfcfc"></div>
<div class="m" style="left:540px;top:690px;height:30px;width:30px;background:#fcfcfc"></div>
<div class="m" style="left:570px;top:690px;height:30px;width:30px;background:#fcfcfc"></div>
<div class="m" style="left:600px;top:690px;height:30px;width:31px;background:#fcfcfc"></div>
<div class="m" style="left:0px;top:720px;height:30px;width:30px;background:#f0f0f0"></div>
<div class="m" style="left:30px;top:720px;height:30px;width:30px;background:#dddddd"></div>
<div class="m" style="left:60px;top:720px;height:30px;width:30px;background:#e1e1e1"></div>
<div class="m" style="left:90px;top:720px;height:30px;width:30px;background:#f8f8f8"></div>
<div class="m" style="left:120px;top:720px;height:30px;width:30px;background:#fcfcfc"></div>
<div class="m" style="left:150px;top:720px;height:30px;width:30px;background:#fcfcfc"></div>
<div class="m" style="left:180px;top:720px;height:30px;width:30px;background:#fcfcfc"></div>
<div class="m" style="left:210px;top:720px;height:30px;width:30px;background:#fcfcfc"></div>
<div class="m" style="left:240px;top:720px;height:30px;width:30px;background:#fcfcfc"></div>
<div class="m" style="left:270px;top:720px;height:30px;width:30px;background:#fcfcfc"></div>
<div class="m" style="left:300px;top:720px;height:30px;width:30px;background:#fcfcfc"></div>
<div class="m" style="left:330px;top:720px;height:30px;width:30px;background:#fcfcfc"></div>
<div class="m" style="left:360px;top:720px;height:30px;width:30px;background:#fcfcfc"></div>
<div class="m" style="left:390px;top:720px;height:30px;width:30px;background:#fcfcfc"></div>
<div class="m" style="left:420px;top:720px;height:30px;width:30px;background:#fcfcfc"></div>
<div class="m" style="left:450px;top:720px;height:30px;width:30px;background:#fcfcfc"></div>
<div class="m" style="left:480px;top:720px;height:30px;width:30px;background:#fcfcfc"></div>
<div class="m" style="left:510px;top:720px;height:30px;width:30px;background:#fcfcfc"></div>
<div class="m" style="left:540px;top:720px;height:30px;width:30px;background:#fcfcfc"></div>
<div class="m" style="left:570px;top:720px;height:30px;width:30px;background:#fcfcfc"></div>
<div class="m" style="left:600px;top:720px;height:30px;width:31px;background:#fcfcfc"></div>
<div class="m" style="left:0px;top:750px;height:30px;width:30px;background:#dddddd"></div>
<div class="m" style="left:30px;top:750px;height:30px;width:30px;background:#ababab"></div>
<div class="m" style="left:60px;top:750px;height:30px;width:30px;background:#b3b3b3"></div>
<div class="m" style="left:90px;top:750px;height:30px;width:30px;background:#a3a3a3"></div>
<div class="m" style="left:120px;top:750px;height:30px;width:30px;background:#a7a7a7"></div>
<div class="m" style="left:150px;top:750px;height:30px;width:30px;background:#ffffff"></div>
<div class="m" style="left:180px;top:750px;height:30px;width:30px;background:#ffffff"></div>
<div class="m" style="left:210px;top:750px;height:30px;width:30px;background:#ffffff"></div>
<div class="m" style="left:240px;top:750px;height:30px;width:30px;background:#ffffff"></div>
<div class="m" style="left:270px;top:750px;height:30px;width:30px;background:#ffffff"></div>
<div class="m" style="left:300px;top:750px;height:30px;width:30px;background:#ffffff"></div>
<div class="m" style="left:330px;top:750px;height:30px;width:30px;background:#ffffff"></div>
<div class="m" style="left:360px;top:750px;height:30px;width:30px;background:#ffffff"></div>
<div class="m" style="left:390px;top:750px;height:30px;width:30px;background:#ffffff"></div>
<div class="m" style="left:420px;top:750px;height:30px;width:30px;background:#ffffff"></div>
<div class="m" style="left:450px;top:750px;height:30px;width:30px;background:#ffffff"></div>
<div class="m" style="left:480px;top:750px;height:30px;width:30px;background:#ffffff"></div>
<div class="m" style="left:510px;top:750px;height:30px;width:30px;background:#ffffff"></div>
<div class="m" style="left:540px;top:750px;height:30px;width:30px;background:#ffffff"></div>
<div class="m" style="left:570px;top:750px;height:30px;width:30px;background:#ffffff"></div>
<div class="m" style="left:600px;top:750px;height:30px;width:31px;background:#ffffff"></div>
<div class="m" style="left:0px;top:780px;height:30px;width:30px;background:#e7e7e7"></div>
<div class="m" style="left:30px;top:780px;height:30px;width:30px;background:#d9d9d9"></div>
<div class="m" style="left:60px;top:780px;height:30px;width:30px;background:#dbdbdb"></div>
<div class="m" style="left:90px;top:780px;height:30px;width:30px;background:#f4f4f4"></div>
<div class="m" style="left:120px;top:780px;height:30px;width:30px;background:#ffffff"></div>
<div class="m" style="left:150px;top:780px;height:30px;width:30px;background:#ffffff"></div>
<div class="m" style="left:180px;top:780px;height:30px;width:30px;background:#ffffff"></div>
<div class="m" style="left:210px;top:780px;height:30px;width:30px;background:#ffffff"></div>
<div class="m" style="left:240px;top:780px;height:30px;width:30px;background:#ffffff"></div>
<div class="m" style="left:270px;top:780px;height:30px;width:30px;background:#ffffff"></div>
<div class="m" style="left:300px;top:780px;height:30px;width:30px;background:#ffffff"></div>
<div class="m" style="left:330px;top:780px;height:30px;width:30px;background:#ffffff"></div>
<div class="m" style="left:360px;top:780px;height:30px;width:30px;background:#ffffff"></div>
<div class="m" style="left:390px;top:780px;height:30px;width:30px;background:#ffffff"></div>
<div class="m" style="left:420px;top:780px;height:30px;width:30px;background:#ffffff"></div>
<div class="m" style="left:450px;top:780px;height:30px;width:30px;background:#ffffff"></div>
<div class="m" style="left:480px;top:780px;height:30px;width:30px;background:#ffffff"></div>
<div class="m" style="left:510px;top:780px;height:30px;width:30px;background:#ffffff"></div>
<div class="m" style="left:540px;top:780px;height:30px;width:30px;background:#ffffff"></div>
<div class="m" style="left:570px;top:780px;height:30px;width:30px;background:#ffffff"></div>
<div class="m" style="left:600px;top:780px;height:30px;width:31px;background:#ffffff"></div>
<div class="m" style="left:0px;top:810px;height:30px;width:30px;background:#f8f8f8"></div>
<div class="m" style="left:30px;top:810px;height:30px;width:30px;background:#fcfcfc"></div>
<div class="m" style="left:60px;top:810px;height:30px;width:30px;background:#fcfcfc"></div>
<div class="m" style="left:90px;top:810px;height:30px;width:30px;background:#fcfcfc"></div>
<div class="m" style="left:120px;top:810px;height:30px;width:30px;background:#fcfcfc"></div>
<div class="m" style="left:150px;top:810px;height:30px;width:30px;background:#fcfcfc"></div>
<div class="m" style="left:180px;top:810px;height:30px;width:30px;background:#fcfcfc"></div>
<div class="m" style="left:210px;top:810px;height:30px;width:30px;background:#fcfcfc"></div>
<div class="m" style="left:240px;top:810px;height:30px;width:30px;background:#fcfcfc"></div>
<div class="m" style="left:270px;top:810px;height:30px;width:30px;background:#fcfcfc"></div>
<div class="m" style="left:300px;top:810px;height:30px;width:30px;background:#fcfcfc"></div>
<div class="m" style="left:330px;top:810px;height:30px;width:30px;background:#fcfcfc"></div>
<div class="m" style="left:360px;top:810px;height:30px;width:30px;background:#fcfcfc"></div>
<div class="m" style="left:390px;top:810px;height:30px;width:30px;background:#fcfcfc"></div>
<div class="m" style="left:420px;top:810px;height:30px;width:30px;background:#fcfcfc"></div>
<div class="m" style="left:450px;top:810px;height:30px;width:30px;background:#fcfcfc"></div>
<div class="m" style="left:480px;top:810px;height:30px;width:30px;background:#fcfcfc"></div>
<div class="m" style="left:510px;top:810px;height:30px;width:30px;background:#fcfcfc"></div>
<div class="m" style="left:540px;top:810px;height:30px;width:30px;background:#fcfcfc"></div>
<div class="m" style="left:570px;top:810px;height:30px;width:30px;background:#fcfcfc"></div>
<div class="m" style="left:600px;top:810px;height:30px;width:31px;background:#fcfcfc"></div>
<div class="m" style="left:0px;top:840px;height:30px;width:30px;background:#e7e7e7"></div>
<div class="m" style="left:30px;top:840px;height:30px;width:30px;background:#bbbbbb"></div>
<div class="m" style="left:60px;top:840px;height:30px;width:30px;background:#dddddd"></div>
<div class="m" style="left:90px;top:840px;height:30px;width:30px;background:#dfdfdf"></div>
<div class="m" style="left:120px;top:840px;height:30px;width:30px;background:#d5d5d5"></div>
<div class="m" style="left:150px;top:840px;height:30px;width:30px;background:#cfcfcf"></div>
<div class="m" style="left:180px;top:840px;height:30px;width:30px;background:#ffffff"></div>
<div class="m" style="left:210px;top:840px;height:30px;width:30px;background:#ffffff"></div>
<div class="m" style="left:240px;top:840px;height:30px;width:30px;background:#ffffff"></div>
<div class="m" style="left:270px;top:840px;height:30px;width:30px;background:#ffffff"></div>
<div class="m" style="left:300px;top:840px;height:30px;width:30px;background:#ffffff"></div>
<div class="m" style="left:330px;top:840px;height:30px;width:30px;background:#ffffff"></div>
<div class="m" style="left:360px;top:840px;height:30px;width:30px;background:#ffffff"></div>
<div class="m" style="left:390px;top:840px;height:30px;width:30px;background:#ffffff"></div>
<div class="m" style="left:420px;top:840px;height:30px;width:30px;background:#ffffff"></div>
<div class="m" style="left:450px;top:840px;height:30px;width:30px;background:#ffffff"></div>
<div class="m" style="left:480px;top:840px;height:30px;width:30px;background:#ffffff"></div>
<div class="m" style="left:510px;top:840px;height:30px;width:30px;background:#ffffff"></div>
<div class="m" style="left:540px;top:840px;height:30px;width:30px;background:#ffffff"></div>
<div class="m" style="left:570px;top:840px;height:30px;width:30px;background:#ffffff"></div>
<div class="m" style="left:600px;top:840px;height:30px;width:31px;background:#ffffff"></div>
<div class="m" style="left:0px;top:870px;height:30px;width:30px;background:#e9e9e9"></div>
<div class="m" style="left:30px;top:870px;height:30px;width:30px;background:#bbbbbb"></div>
<div class="m" style="left:60px;top:870px;height:30px;width:30px;background:#ffffff"></div>
<div class="m" style="left:90px;top:870px;height:30px;width:30px;background:#ffffff"></div>
<div class="m" style="left:120px;top:870px;height:30px;width:30px;background:#ffffff"></div>
<div class="m" style="left:150px;top:870px;height:30px;width:30px;background:#ffffff"></div>
<div class="m" style="left:180px;top:870px;height:30px;width:30px;background:#ffffff"></div>
<div class="m" style="left:210px;top:870px;height:30px;width:30px;background:#ffffff"></div>
<div class="m" style="left:240px;top:870px;height:30px;width:30px;background:#ffffff"></div>
<div class="m" style="left:270px;top:870px;height:30px;width:30px;background:#ffffff"></div>
<div class="m" style="left:300px;top:870px;height:30px;width:30px;background:#ffffff"></div>
<div class="m" style="left:330px;top:870px;height:30px;width:30px;background:#ffffff"></div>
<div class="m" style="left:360px;top:870px;height:30px;width:30px;background:#ffffff"></div>
<div class="m" style="left:390px;top:870px;height:30px;width:30px;background:#ffffff"></div>
<div class="m" style="left:420px;top:870px;height:30px;width:30px;background:#ffffff"></div>
<div class="m" style="left:450px;top:870px;height:30px;width:30px;background:#ffffff"></div>
<div class="m" style="left:480px;top:870px;height:30px;width:30px;background:#ffffff"></div>
<div class="m" style="left:510px;top:870px;height:30px;width:30px;background:#ffffff"></div>
<div class="m" style="left:540px;top:870px;height:30px;width:30px;background:#ffffff"></div>
<div class="m" style="left:570px;top:870px;height:30px;width:30px;background:#ffffff"></div>
<div class="m" style="left:600px;top:870px;height:30px;width:31px;background:#ffffff"></div>
<div class="m" style="left:0px;top:900px;height:30px;width:30px;background:#f1f1f1"></div>
<div class="m" style="left:30px;top:900px;height:30px;width:30px;background:#f1f1f1"></div>
<div class="m" style="left:60px;top:900px;height:30px;width:30px;background:#fafafa"></div>
<div class="m" style="left:90px;top:900px;height:30px;width:30px;background:#fafafa"></div>
<div class="m" style="left:120px;top:900px;height:30px;width:30px;background:#f8f8f8"></div>
<div class="m" style="left:150px;top:900px;height:30px;width:30px;background:#f1f1f1"></div>
<div class="m" style="left:180px;top:900px;height:30px;width:30px;background:#fcfcfc"></div>
<div class="m" style="left:210px;top:900px;height:30px;width:30px;background:#fcfcfc"></div>
<div class="m" style="left:240px;top:900px;height:30px;width:30px;background:#fcfcfc"></div>
<div class="m" style="left:270px;top:900px;height:30px;width:30px;background:#fcfcfc"></div>
<div class="m" style="left:300px;top:900px;height:30px;width:30px;background:#fcfcfc"></div>
<div class="m" style="left:330px;top:900px;height:30px;width:30px;background:#fcfcfc"></div>
<div class="m" style="left:360px;top:900px;height:30px;width:30px;background:#fcfcfc"></div>
<div class="m" style="left:390px;top:900px;height:30px;width:30px;background:#fcfcfc"></div>
<div class="m" style="left:420px;top:900px;height:30px;width:30px;background:#fcfcfc"></div>
<div class="m" style="left:450px;top:900px;height:30px;width:30px;background:#fcfcfc"></div>
<div class="m" style="left:480px;top:900px;height:30px;width:30px;background:#fcfcfc"></div>
<div class="m" style="left:510px;top:900px;height:30px;width:30px;background:#fcfcfc"></div>
<div class="m" style="left:540px;top:900px;height:30px;width:30px;background:#fcfcfc"></div>
<div class="m" style="left:570px;top:900px;height:30px;width:30px;background:#fcfcfc"></div>
<div class="m" style="left:600px;top:900px;height:30px;width:31px;background:#fcfcfc"></div>
<div class="m" style="left:0px;top:930px;height:30px;width:30px;background:#f0f0f0"></div>
<div class="m" style="left:30px;top:930px;height:30px;width:30px;background:#e1e1e1"></div>
<div class="m" style="left:60px;top:930px;height:30px;width:30px;background:#e5e5e5"></div>
<div class="m" style="left:90px;top:930px;height:30px;width:30px;background:#dbdbdb"></div>
<div class="m" style="left:120px;top:930px;height:30px;width:30px;background:#f0f0f0"></div>
<div class="m" style="left:150px;top:930px;height:30px;width:30px;background:#f2f2f2"></div>
<div class="m" style="left:180px;top:930px;height:30px;width:30px;background:#ebebeb"></div>
<div class="m" style="left:210px;top:930px;height:30px;width:30px;background:#e1e1e1"></div>
<div class="m" style="left:240px;top:930px;height:30px;width:30px;background:#e5e5e5"></div>
<div class="m" style="left:270px;top:930px;height:30px;width:30px;background:#f1f1f1"></div>
<div class="m" style="left:300px;top:930px;height:30px;width:30px;background:#fcfcfc"></div>
<div class="m" style="left:330px;top:930px;height:30px;width:30px;background:#fcfcfc"></div>
<div class="m" style="left:360px;top:930px;height:30px;width:30px;background:#fcfcfc"></div>
<div class="m" style="left:390px;top:930px;height:30px;width:30px;background:#fcfcfc"></div>
<div class="m" style="left:420px;top:930px;height:30px;width:30px;background:#fcfcfc"></div>
<div class="m" style="left:450px;top:930px;height:30px;width:30px;background:#fcfcfc"></div>
<div class="m" style="left:480px;top:930px;height:30px;width:30px;background:#fcfcfc"></div>
<div class="m" style="left:510px;top:930px;height:30px;width:30px;background:#fcfcfc"></div>
<div class="m" style="left:540px;top:930px;height:30px;width:30px;background:#fcfcfc"></div>
<div class="m" style="left:570px;top:930px;height:30px;width:30px;background:#fcfcfc"></div>
<div class="m" style="left:600px;top:930px;height:30px;width:31px;background:#fcfcfc"></div>
<div class="m" style="left:0px;top:960px;height:30px;width:30px;background:#dfdfdf"></div>
<div class="m" style="left:30px;top:960px;height:30px;width:30px;background:#ababab"></div>
<div class="m" style="left:60px;top:960px;height:30px;width:30px;background:#a1a1a1"></div>
<div class="m" style="left:90px;top:960px;height:30px;width:30px;background:#ababab"></div>
<div class="m" style="left:120px;top:960px;height:30px;width:30px;background:#afafaf"></div>
<div class="m" style="left:150px;top:960px;height:30px;width:30px;background:#d1d1d1"></div>
<div class="m" style="left:180px;top:960px;height:30px;width:30px;background:#b7b7b7"></div>
<div class="m" style="left:210px;top:960px;height:30px;width:30px;background:#b1b1b1"></div>
<div class="m" style="left:240px;top:960px;height:30px;width:30px;background:#a3a3a3"></div>
<div class="m" style="left:270px;top:960px;height:30px;width:30px;background:#b5b5b5"></div>
<div class="m" style="left:300px;top:960px;height:30px;width:30px;background:#b5b5b5"></div>
<div class="m" style="left:330px;top:960px;height:30px;width:30px;background:#c1c1c1"></div>
<div class="m" style="left:360px;top:960px;height:30px;width:30px;background:#ffffff"></div>
<div class="m" style="left:390px;top:960px;height:30px;width:30px;background:#ffffff"></div>
<div class="m" style="left:420px;top:960px;height:30px;width:30px;background:#ffffff"></div>
<div class="m" style="left:450px;top:960px;height:30px;width:30px;background:#ffffff"></div>
<div class="m" style="left:480px;top:960px;height:30px;width:30px;background:#ffffff"></div>
<div class="m" style="left:510px;top:960px;height:30px;width:30px;background:#ffffff"></div>
<div class="m" style="left:540px;top:960px;height:30px;width:30px;background:#ffffff"></div>
<div class="m" style="left:570px;top:960px;height:30px;width:30px;background:#ffffff"></div>
<div class="m" style="left:600px;top:960px;height:30px;width:31px;background:#ffffff"></div>
<div class="m" style="left:0px;top:990px;height:30px;width:30px;background:#f1f1f1"></div>
<div class="m" style="left:30px;top:990px;height:30px;width:30px;background:#d7d7d7"></div>
<div class="m" style="left:60px;top:990px;height:30px;width:30px;background:#e3e3e3"></div>
<div class="m" style="left:90px;top:990px;height:30px;width:30px;background:#ebebeb"></div>
<div class="m" style="left:120px;top:990px;height:30px;width:30px;background:#e5e5e5"></div>
<div class="m" style="left:150px;top:990px;height:30px;width:30px;background:#efefef"></div>
<div class="m" style="left:180px;top:990px;height:30px;width:30px;background:#dfdfdf"></div>
<div class="m" style="left:210px;top:990px;height:30px;width:30px;background:#d9d9d9"></div>
<div class="m" style="left:240px;top:990px;height:30px;width:30px;background:#ebebeb"></div>
<div class="m" style="left:270px;top:990px;height:30px;width:30px;background:#dfdfdf"></div>
<div class="m" style="left:300px;top:990px;height:30px;width:30px;background:#dfdfdf"></div>
<div class="m" style="left:330px;top:990px;height:30px;width:30px;background:#e5e5e5"></div>
<div class="m" style="left:360px;top:990px;height:30px;width:30px;background:#e3e3e3"></div>
<div class="m" style="left:390px;top:990px;height:30px;width:30px;background:#ededed"></div>
<div class="m" style="left:420px;top:990px;height:30px;width:30px;background:#f8f8f8"></div>
<div class="m" style="left:450px;top:990px;height:30px;width:30px;background:#ffffff"></div>
<div class="m" style="left:480px;top:990px;height:30px;width:30px;background:#ffffff"></div>
<div class="m" style="left:510px;top:990px;height:30px;width:30px;background:#ffffff"></div>
<div class="m" style="left:540px;top:990px;height:30px;width:30px;background:#ffffff"></div>
<div class="m" style="left:570px;top:990px;height:30px;width:30px;background:#ffffff"></div>
<div class="m" style="left:600px;top:990px;height:30px;width:31px;background:#ffffff"></div>
<div class="m" style="left:0px;top:1020px;height:30px;width:30px;background:#f8f8f8"></div>
<div class="m" style="left:30px;top:1020px;height:30px;width:30px;background:#fcfcfc"></div>
<div class="m" style="left:60px;top:1020px;height:30px;width:30px;background:#fcfcfc"></div>
<div class="m" style="left:90px;top:1020px;height:30px;width:30px;background:#fcfcfc"></div>
<div class="m" style="left:120px;top:1020px;height:30px;width:30px;background:#fcfcfc"></div>
<div class="m" style="left:150px;top:1020px;height:30px;width:30px;background:#fcfcfc"></div>
<div class="m" style="left:180px;top:1020px;height:30px;width:30px;background:#fcfcfc"></div>
<div class="m" style="left:210px;top:1020px;height:30px;width:30px;background:#f6f6f6"></div>
<div class="m" style="left:240px;top:1020px;height:30px;width:30px;background:#fcfcfc"></div>
<div class="m" style="left:270px;top:1020px;height:30px;width:30px;background:#fcfcfc"></div>
<div class="m" style="left:300px;top:1020px;height:30px;width:30px;background:#fcfcfc"></div>
<div class="m" style="left:330px;top:1020px;height:30px;width:30px;background:#f4f4f4"></div>
<div class="m" style="left:360px;top:1020px;height:30px;width:30px;background:#fcfcfc"></div>
<div class="m" style="left:390px;top:1020px;height:30px;width:30px;background:#fcfcfc"></div>
<div class="m" style="left:420px;top:1020px;height:30px;width:30px;background:#fcfcfc"></div>
<div class="m" style="left:450px;top:1020px;height:30px;width:30px;background:#fcfcfc"></div>
<div class="m" style="left:480px;top:1020px;height:30px;width:30px;background:#fcfcfc"></div>
<div class="m" style="left:510px;top:1020px;height:30px;width:30px;background:#fcfcfc"></div>
<div class="m" style="left:540px;top:1020px;height:30px;width:30px;background:#fcfcfc"></div>
<div class="m" style="left:570px;top:1020px;height:30px;width:30px;background:#fcfcfc"></div>
<div class="m" style="left:600px;top:1020px;height:30px;width:31px;background:#fcfcfc"></div>
<div class="m" style="left:0px;top:1050px;height:30px;width:30px;background:#efefef"></div>
<div class="m" style="left:30px;top:1050px;height:30px;width:30px;background:#c3c3c3"></div>
<div class="m" style="left:60px;top:1050px;height:30px;width:30px;background:#c5c5c5"></div>
<div class="m" style="left:90px;top:1050px;height:30px;width:30px;background:#cdcdcd"></div>
<div class="m" style="left:120px;top:1050px;height:30px;width:30px;background:#c9c9c9"></div>
<div class="m" style="left:150px;top:1050px;height:30px;width:30px;background:#bdbdbd"></div>
<div class="m" style="left:180px;top:1050px;height:30px;width:30px;background:#c9c9c9"></div>
<div class="m" style="left:210px;top:1050px;height:30px;width:30px;background:#c7c7c7"></div>
<div class="m" style="left:240px;top:1050px;height:30px;width:30px;background:#d5d5d5"></div>
<div class="m" style="left:270px;top:1050px;height:30px;width:30px;background:#bdbdbd"></div>
<div class="m" style="left:300px;top:1050px;height:30px;width:30px;background:#cdcdcd"></div>
<div class="m" style="left:330px;top:1050px;height:30px;width:30px;background:#c9c9c9"></div>
<div class="m" style="left:360px;top:1050px;height:30px;width:30px;background:#d3d3d3"></div>
<div class="m" style="left:390px;top:1050px;height:30px;width:30px;background:#bdbdbd"></div>
<div class="m" style="left:420px;top:1050px;height:30px;width:30px;background:#cbcbcb"></div>
<div class="m" style="left:450px;top:1050px;height:30px;width:30px;background:#c9c9c9"></div>
<div class="m" style="left:480px;top:1050px;height:30px;width:30px;background:#c7c7c7"></div>
<div class="m" style="left:510px;top:1050px;height:30px;width:30px;background:#dddddd"></div>
<div class="m" style="left:540px;top:1050px;height:30px;width:30px;background:#d1d1d1"></div>
<div class="m" style="left:570px;top:1050px;height:30px;width:30px;background:#bdbdbd"></div>
<div class="m" style="left:600px;top:1050px;height:30px;width:31px;background:#d3d3d3"></div>
<div class="m" style="left:0px;top:1080px;height:30px;width:30px;background:#e1e1e1"></div>
<div class="m" style="left:30px;top:1080px;height:30px;width:30px;background:#9f9f9f"></div>
<div class="m" style="left:60px;top:1080px;height:30px;width:30px;background:#b7b7b7"></div>
<div class="m" style="left:90px;top:1080px;height:30px;width:30px;background:#b5b5b5"></div>
<div class="m" style="left:120px;top:1080px;height:30px;width:30px;background:#b5b5b5"></div>
<div class="m" style="left:150px;top:1080px;height:30px;width:30px;background:#b5b5b5"></div>
<div class="m" style="left:180px;top:1080px;height:30px;width:30px;background:#d3d3d3"></div>
<div class="m" style="left:210px;top:1080px;height:30px;width:30px;background:#c9c9c9"></div>
<div class="m" style="left:240px;top:1080px;height:30px;width:30px;background:#bbbbbb"></div>
<div class="m" style="left:270px;top:1080px;height:30px;width:30px;background:#c9c9c9"></div>
<div class="m" style="left:300px;top:1080px;height:30px;width:30px;background:#cdcdcd"></div>
<div class="m" style="left:330px;top:1080px;height:30px;width:30px;background:#bdbdbd"></div>
<div class="m" style="left:360px;top:1080px;height:30px;width:30px;background:#b7b7b7"></div>
<div class="m" style="left:390px;top:1080px;height:30px;width:30px;background:#d3d3d3"></div>
<div class="m" style="left:420px;top:1080px;height:30px;width:30px;background:#ffffff"></div>
<div class="m" style="left:450px;top:1080px;height:30px;width:30px;background:#ffffff"></div>
<div class="m" style="left:480px;top:1080px;height:30px;width:30px;background:#ffffff"></div>
<div class="m" style="left:510px;top:1080px;height:30px;width:30px;background:#ffffff"></div>
<div class="m" style="left:540px;top:1080px;height:30px;width:30px;background:#ffffff"></div>
<div class="m" style="left:570px;top:1080px;height:30px;width:30px;background:#ffffff"></div>
<div class="m" style="left:600px;top:1080px;height:30px;width:31px;background:#ffffff"></div>
<div class="m" style="left:0px;top:1110px;height:30px;width:30px;background:#f2f2f2"></div>
<div class="m" style="left:30px;top:1110px;height:30px;width:30px;background:#fcfcfc"></div>
<div class="m" style="left:60px;top:1110px;height:30px;width:30px;background:#fcfcfc"></div>
<div class="m" style="left:90px;top:1110px;height:30px;width:30px;background:#fcfcfc"></div>
<div class="m" style="left:120px;top:1110px;height:30px;width:30px;background:#fcfcfc"></div>
<div class="m" style="left:150px;top:1110px;height:30px;width:30px;background:#fcfcfc"></div>
<div class="m" style="left:180px;top:1110px;height:30px;width:30px;background:#fcfcfc"></div>
<div class="m" style="left:210px;top:1110px;height:30px;width:30px;background:#fcfcfc"></div>
<div class="m" style="left:240px;top:1110px;height:30px;width:30px;background:#fcfcfc"></div>
<div class="m" style="left:270px;top:1110px;height:30px;width:30px;background:#fcfcfc"></div>
<div class="m" style="left:300px;top:1110px;height:30px;width:30px;background:#e9e9e9"></div>
<div class="m" style="left:330px;top:1110px;height:30px;width:30px;background:#fafafa"></div>
<div class="m" style="left:360px;top:1110px;height:30px;width:30px;background:#fcfcfc"></div>
<div class="m" style="left:390px;top:1110px;height:30px;width:30px;background:#fcfcfc"></div>
<div class="m" style="left:420px;top:1110px;height:30px;width:30px;background:#fcfcfc"></div>
<div class="m" style="left:450px;top:1110px;height:30px;width:30px;background:#fcfcfc"></div>
<div class="m" style="left:480px;top:1110px;height:30px;width:30px;background:#fcfcfc"></div>
<div class="m" style="left:510px;top:1110px;height:30px;width:30px;background:#fcfcfc"></div>
<div class="m" style="left:540px;top:1110px;height:30px;width:30px;background:#fcfcfc"></div>
<div class="m" style="left:570px;top:1110px;height:30px;width:30px;background:#fcfcfc"></div>
<div class="m" style="left:600px;top:1110px;height:30px;width:31px;background:#fcfcfc"></div>
<div class="m" style="left:0px;top:1140px;height:30px;width:30px;background:#f0f0f0"></div>
<div class="m" style="left:30px;top:1140px;height:30px;width:30px;background:#e9e9e9"></div>
<div class="m" style="left:60px;top:1140px;height:30px;width:30px;background:#e1e1e1"></div>
<div class="m" style="left:90px;top:1140px;height:30px;width:30px;background:#e9e9e9"></div>
<div class="m" style="left:120px;top:1140px;height:30px;width:30px;background:#e7e7e7"></div>
<div class="m" style="left:150px;top:1140px;height:30px;width:30px;background:#f0f0f0"></div>
<div class="m" style="left:180px;top:1140px;height:30px;width:30px;background:#ededed"></div>
<div class="m" style="left:210px;top:1140px;height:30px;width:30px;background:#e5e5e5"></div>
<div class="m" style="left:240px;top:1140px;height:30px;width:30px;background:#e3e3e3"></div>
<div class="m" style="left:270px;top:1140px;height:30px;width:30px;background:#ededed"></div>
<div class="m" style="left:300px;top:1140px;height:30px;width:30px;background:#dddddd"></div>
<div class="m" style="left:330px;top:1140px;height:30px;width:30px;background:#dddddd"></div>
<div class="m" style="left:360px;top:1140px;height:30px;width:30px;background:#fcfcfc"></div>
<div class="m" style="left:390px;top:1140px;height:30px;width:30px;background:#fcfcfc"></div>
<div class="m" style="left:420px;top:1140px;height:30px;width:30px;background:#fcfcfc"></div>
<div class="m" style="left:450px;top:1140px;height:30px;width:30px;background:#fcfcfc"></div>
<div class="m" style="left:480px;top:1140px;height:30px;width:30px;background:#fcfcfc"></div>
<div class="m" style="left:510px;top:1140px;height:30px;width:30px;background:#fcfcfc"></div>
<div class="m" style="left:540px;top:1140px;height:30px;width:30px;background:#fcfcfc"></div>
<div class="m" style="left:570px;top:1140px;height:30px;width:30px;background:#fcfcfc"></div>
<div class="m" style="left:600px;top:1140px;height:30px;width:31px;background:#fcfcfc"></div>
<div class="m" style="left:0px;top:1170px;height:30px;width:30px;background:#e1e1e1"></div>
<div class="m" style="left:30px;top:1170px;height:30px;width:30px;background:#adadad"></div>
<div class="m" style="left:60px;top:1170px;height:30px;width:30px;background:#adadad"></div>
<div class="m" style="left:90px;top:1170px;height:30px;width:30px;background:#b5b5b5"></div>
<div class="m" style="left:120px;top:1170px;height:30px;width:30px;background:#b3b3b3"></div>
<div class="m" style="left:150px;top:1170px;height:30px;width:30px;background:#e3e3e3"></div>
<div class="m" style="left:180px;top:1170px;height:30px;width:30px;background:#c9c9c9"></div>
<div class="m" style="left:210px;top:1170px;height:30px;width:30px;background:#a7a7a7"></div>
<div class="m" style="left:240px;top:1170px;height:30px;width:30px;background:#a5a5a5"></div>
<div class="m" style="left:270px;top:1170px;height:30px;width:30px;background:#f0f0f0"></div>
<div class="m" style="left:300px;top:1170px;height:30px;width:30px;background:#ffffff"></div>
<div class="m" style="left:330px;top:1170px;height:30px;width:30px;background:#ffffff"></div>
<div class="m" style="left:360px;top:1170px;height:30px;width:30px;background:#ffffff"></div>
<div class="m" style="left:390px;top:1170px;height:30px;width:30px;background:#ffffff"></div>
<div class="m" style="left:420px;top:1170px;height:30px;width:30px;background:#ffffff"></div>
<div class="m" style="left:450px;top:1170px;height:30px;width:30px;background:#ffffff"></div>
<div class="m" style="left:480px;top:1170px;height:30px;width:30px;background:#ffffff"></div>
<div class="m" style="left:510px;top:1170px;height:30px;width:30px;background:#ffffff"></div>
<div class="m" style="left:540px;top:1170px;height:30px;width:30px;background:#ffffff"></div>
<div class="m" style="left:570px;top:1170px;height:30px;width:30px;background:#ffffff"></div>
<div class="m" style="left:600px;top:1170px;height:30px;width:31px;background:#ffffff"></div>
<div class="m" style="left:0px;top:1200px;height:30px;width:30px;background:#e5e5e5"></div>
<div class="m" style="left:30px;top:1200px;height:30px;width:30px;background:#cdcdcd"></div>
<div class="m" style="left:60px;top:1200px;height:30px;width:30px;background:#e5e5e5"></div>
<div class="m" style="left:90px;top:1200px;height:30px;width:30px;background:#e3e3e3"></div>
<div class="m" style="left:120px;top:1200px;height:30px;width:30px;background:#e7e7e7"></div>
<div class="m" style="left:150px;top:1200px;height:30px;width:30px;background:#dddddd"></div>
<div class="m" style="left:180px;top:1200px;height:30px;width:30px;background:#ffffff"></div>
<div class="m" style="left:210px;top:1200px;height:30px;width:30px;background:#ffffff"></div>
<div class="m" style="left:240px;top:1200px;height:30px;width:30px;background:#ffffff"></div>
<div class="m" style="left:270px;top:1200px;height:30px;width:30px;background:#ffffff"></div>
<div class="m" style="left:300px;top:1200px;height:30px;width:30px;background:#ffffff"></div>
<div class="m" style="left:330px;top:1200px;height:30px;width:30px;background:#ffffff"></div>
<div class="m" style="left:360px;top:1200px;height:30px;width:30px;background:#ffffff"></div>
<div class="m" style="left:390px;top:1200px;height:30px;width:30px;background:#ffffff"></div>
<div class="m" style="left:420px;top:1200px;height:30px;width:30px;background:#ffffff"></div>
<div class="m" style="left:450px;top:1200px;height:30px;width:30px;background:#ffffff"></div>
<div class="m" style="left:480px;top:1200px;height:30px;width:30px;background:#ffffff"></div>
<div class="m" style="left:510px;top:1200px;height:30px;width:30px;background:#ffffff"></div>
<div class="m" style="left:540px;top:1200px;height:30px;width:30px;background:#ffffff"></div>
<div class="m" style="left:570px;top:1200px;height:30px;width:30px;background:#ffffff"></div>
<div class="m" style="left:600px;top:1200px;height:30px;width:31px;background:#ffffff"></div>
<div class="m" style="left:0px;top:1230px;height:30px;width:30px;background:#f8f8f8"></div>
<div class="m" style="left:30px;top:1230px;height:30px;width:30px;background:#fcfcfc"></div>
<div class="m" style="left:60px;top:1230px;height:30px;width:30px;background:#fafafa"></div>
<div class="m" style="left:90px;top:1230px;height:30px;width:30px;background:#fafafa"></div>
<div class="m" style="left:120px;top:1230px;height:30px;width:30px;background:#fcfcfc"></div>
<div class="m" style="left:150px;top:1230px;height:30px;width:30px;background:#fcfcfc"></div>
<div class="m" style="left:180px;top:1230px;height:30px;width:30px;background:#fcfcfc"></div>
<div class="m" style="left:210px;top:1230px;height:30px;width:30px;background:#fcfcfc"></div>
<div class="m" style="left:240px;top:1230px;height:30px;width:30px;background:#fcfcfc"></div>
<div class="m" style="left:270px;top:1230px;height:30px;width:30px;background:#fcfcfc"></div>
<div class="m" style="left:300px;top:1230px;height:30px;width:30px;background:#fcfcfc"></div>
<div class="m" style="left:330px;top:1230px;height:30px;width:30px;background:#fcfcfc"></div>
<div class="m" style="left:360px;top:1230px;height:30px;width:30px;background:#fcfcfc"></div>
<div class="m" style="left:390px;top:1230px;height:30px;width:30px;background:#fcfcfc"></div>
<div class="m" style="left:420px;top:1230px;height:30px;width:30px;background:#fcfcfc"></div>
<div class="m" style="left:450px;top:1230px;height:30px;width:30px;background:#fcfcfc"></div>
<div class="m" style="left:480px;top:1230px;height:30px;width:30px;background:#fcfcfc"></div>
<div class="m" style="left:510px;top:1230px;height:30px;width:30px;background:#fcfcfc"></div>
<div class="m" style="left:540px;top:1230px;height:30px;width:30px;background:#fcfcfc"></div>
<div class="m" style="left:570px;top:1230px;height:30px;width:30px;background:#fcfcfc"></div>
<div class="m" style="left:600px;top:1230px;height:30px;width:31px;background:#fcfcfc"></div>
<div class="m" style="left:0px;top:1260px;height:30px;width:30px;background:#ededed"></div>
<div class="m" style="left:30px;top:1260px;height:30px;width:30px;background:#cbcbcb"></div>
<div class="m" style="left:60px;top:1260px;height:30px;width:30px;background:#c7c7c7"></div>
<div class="m" style="left:90px;top:1260px;height:30px;width:30px;background:#c7c7c7"></div>
<div class="m" style="left:120px;top:1260px;height:30px;width:30px;background:#c7c7c7"></div>
<div class="m" style="left:150px;top:1260px;height:30px;width:30px;background:#dbdbdb"></div>
<div class="m" style="left:180px;top:1260px;height:30px;width:30px;background:#c9c9c9"></div>
<div class="m" style="left:210px;top:1260px;height:30px;width:30px;background:#b3b3b3"></div>
<div class="m" style="left:240px;top:1260px;height:30px;width:30px;background:#cdcdcd"></div>
<div class="m" style="left:270px;top:1260px;height:30px;width:30px;background:#b9b9b9"></div>
<div class="m" style="left:300px;top:1260px;height:30px;width:30px;background:#cdcdcd"></div>
<div class="m" style="left:330px;top:1260px;height:30px;width:30px;background:#dddddd"></div>
<div class="m" style="left:360px;top:1260px;height:30px;width:30px;background:#c5c5c5"></div>
<div class="m" style="left:390px;top:1260px;height:30px;width:30px;background:#c5c5c5"></div>
<div class="m" style="left:420px;top:1260px;height:30px;width:30px;background:#cdcdcd"></div>
<div class="m" style="left:450px;top:1260px;height:30px;width:30px;background:#b9b9b9"></div>
<div class="m" style="left:480px;top:1260px;height:30px;width:30px;background:#cdcdcd"></div>
<div class="m" style="left:510px;top:1260px;height:30px;width:30px;background:#b7b7b7"></div>
<div class="m" style="left:540px;top:1260px;height:30px;width:30px;background:#cdcdcd"></div>
<div class="m" style="left:570px;top:1260px;height:30px;width:30px;background:#ededed"></div>
<div class="m" style="left:600px;top:1260px;height:30px;width:31px;background:#ffffff"></div>
<div class="m" style="left:0px;top:1290px;height:30px;width:30px;background:#dddddd"></div>
<div class="m" style="left:30px;top:1290px;height:30px;width:30px;background:#b3b3b3"></div>
<div class="m" style="left:60px;top:1290px;height:30px;width:30px;background:#bdbdbd"></div>
<div class="m" style="left:90px;top:1290px;height:30px;width:30px;background:#c1c1c1"></div>
<div class="m" style="left:120px;top:1290px;height:30px;width:30px;background:#bbbbbb"></div>
<div class="m" style="left:150px;top:1290px;height:30px;width:30px;background:#d7d7d7"></div>
<div class="m" style="left:180px;top:1290px;height:30px;width:30px;background:#b5b5b5"></div>
<div class="m" style="left:210px;top:1290px;height:30px;width:30px;background:#b5b5b5"></div>
<div class="m" style="left:240px;top:1290px;height:30px;width:30px;background:#bbbbbb"></div>
<div class="m" style="left:270px;top:1290px;height:30px;width:30px;background:#ffffff"></div>
<div class="m" style="left:300px;top:1290px;height:30px;width:30px;background:#ffffff"></div>
<div class="m" style="left:330px;top:1290px;height:30px;width:30px;background:#ffffff"></div>
<div class="m" style="left:360px;top:1290px;height:30px;width:30px;background:#ffffff"></div>
<div class="m" style="left:390px;top:1290px;height:30px;width:30px;background:#ffffff"></div>
<div class="m" style="left:420px;top:1290px;height:30px;width:30px;background:#ffffff"></div>
<div class="m" style="left:450px;top:1290px;height:30px;width:30px;background:#ffffff"></div>
<div class="m" style="left:480px;top:1290px;height:30px;width:30px;background:#ffffff"></div>
<div class="m" style="left:510px;top:1290px;height:30px;width:30px;background:#ffffff"></div>
<div class="m" style="left:540px;top:1290px;height:30px;width:30px;background:#ffffff"></div>
<div class="m" style="left:570px;top:1290px;height:30px;width:30px;background:#ffffff"></div>
<div class="m" style="left:600px;top:1290px;height:30px;width:31px;background:#ffffff"></div>
<div class="m" style="left:0px;top:1320px;height:30px;width:30px;background:#f1f1f1"></div>
<div class="m" style="left:30px;top:1320px;height:30px;width:30px;background:#f4f4f4"></div>
<div class="m" style="left:60px;top:1320px;height:30px;width:30px;background:#fafafa"></div>
<div class="m" style="left:90px;top:1320px;height:30px;width:30px;background:#f0f0f0"></div>
<div class="m" style="left:120px;top:1320px;height:30px;width:30px;background:#fafafa"></div>
<div class="m" style="left:150px;top:1320px;height:30px;width:30px;background:#e9e9e9"></div>
<div class="m" style="left:180px;top:1320px;height:30px;width:30px;background:#f2f2f2"></div>
<div class="m" style="left:210px;top:1320px;height:30px;width:30px;background:#fcfcfc"></div>
<div class="m" style="left:240px;top:1320px;height:30px;width:30px;background:#fcfcfc"></div>
<div class="m" style="left:270px;top:1320px;height:30px;width:30px;background:#fcfcfc"></div>
<div class="m" style="left:300px;top:1320px;height:30px;width:30px;background:#fcfcfc"></div>
<div class="m" style="left:330px;top:1320px;height:30px;width:30px;background:#fcfcfc"></div>
<div class="m" style="left:360px;top:1320px;height:30px;width:30px;background:#fcfcfc"></div>
<div class="m" style="left:390px;top:1320px;height:30px;width:30px;background:#fcfcfc"></div>
<div class="m" style="left:420px;top:1320px;height:30px;width:30px;background:#fcfcfc"></div>
<div class="m" style="left:450px;top:1320px;height:30px;width:30px;background:#fcfcfc"></div>
<div class="m" style="left:480px;top:1320px;height:30px;width:30px;background:#fcfcfc"></div>
<div class="m" style="left:510px;top:1320px;height:30px;width:30px;background:#fcfcfc"></div>
<div class="m" style="left:540px;top:1320px;height:30px;width:30px;background:#fcfcfc"></div>
<div class="m" style="left:570px;top:1320px;height:30px;width:30px;background:#fcfcfc"></div>
<div class="m" style="left:600px;top:1320px;height:30px;width:31px;background:#fcfcfc"></div>
<div class="m" style="left:0px;top:1350px;height:20px;width:30px;background:#f1f1f1"></div>
<div class="m" style="left:30px;top:1350px;height:20px;width:30px;background:#e3e3e3"></div>
<div class="m" style="left:60px;top:1350px;height:20px;width:30px;background:#e1e1e1"></div>
<div class="m" style="left:90px;top:1350px;height:20px;width:30px;background:#dfdfdf"></div>
<div class="m" style="left:120px;top:1350px;height:20px;width:30px;background:#e9e9e9"></div>
<div class="m" style="left:150px;top:1350px;height:20px;width:30px;background:#f0f0f0"></div>
<div class="m" style="left:180px;top:1350px;height:20px;width:30px;background:#e7e7e7"></div>
<div class="m" style="left:210px;top:1350px;height:20px;width:30px;background:#fcfcfc"></div>
<div class="m" style="left:240px;top:1350px;height:20px;width:30px;background:#fcfcfc"></div>
<div class="m" style="left:270px;top:1350px;height:20px;width:30px;background:#fcfcfc"></div>
<div class="m" style="left:300px;top:1350px;height:20px;width:30px;background:#fcfcfc"></div>
<div class="m" style="left:330px;top:1350px;height:20px;width:30px;background:#fcfcfc"></div>
<div class="m" style="left:360px;top:1350px;height:20px;width:30px;background:#fcfcfc"></div>
<div class="m" style="left:390px;top:1350px;height:20px;width:30px;background:#fcfcfc"></div>
<div class="m" style="left:420px;top:1350px;height:20px;width:30px;background:#fcfcfc"></div>
<div class="m" style="left:450px;top:1350px;height:20px;width:30px;background:#fcfcfc"></div>
<div class="m" style="left:480px;top:1350px;height:20px;width:30px;background:#fcfcfc"></div>
<div class="m" style="left:510px;top:1350px;height:20px;width:30px;background:#fcfcfc"></div>
<div class="m" style="left:540px;top:1350px;height:20px;width:30px;background:#fcfcfc"></div>
<div class="m" style="left:570px;top:1350px;height:20px;width:30px;background:#fcfcfc"></div>
<div class="m" style="left:600px;top:1350px;height:20px;width:31px;background:#fcfcfc"></div>
</body></html>
